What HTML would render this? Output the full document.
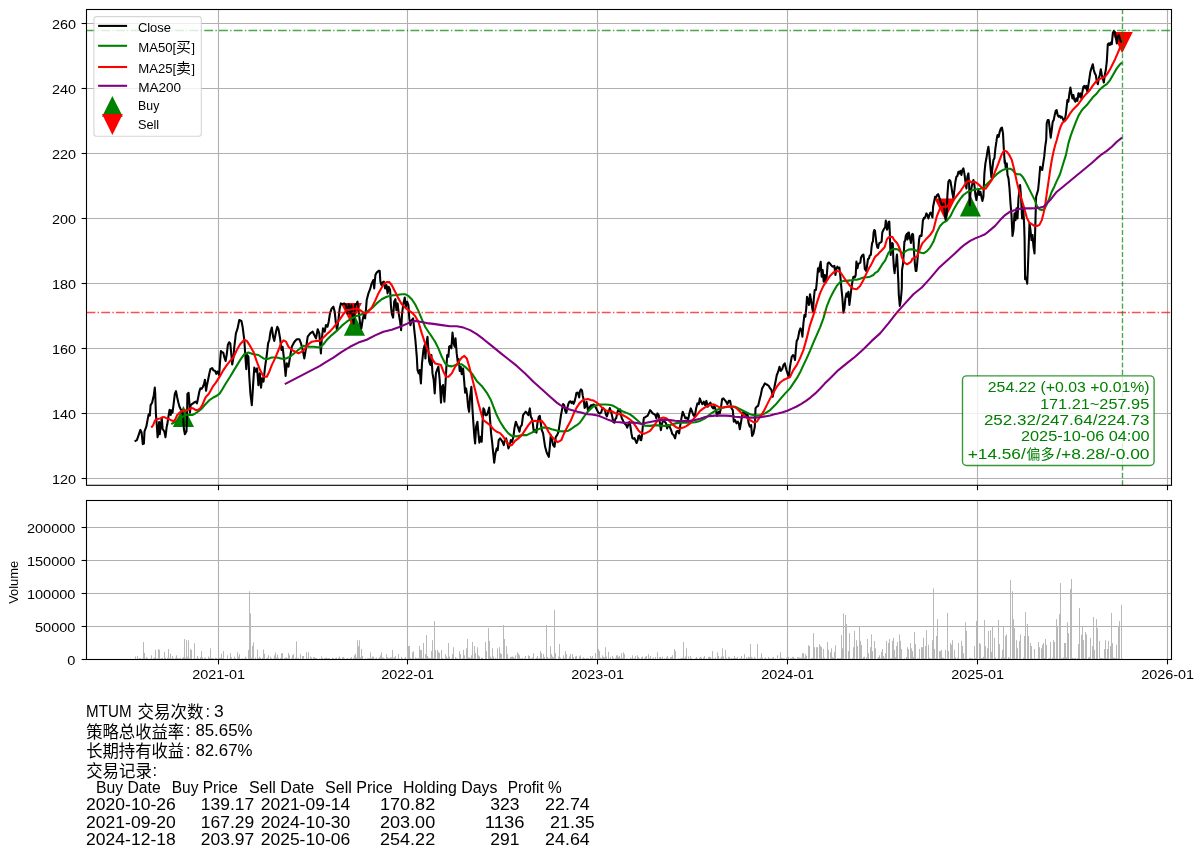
<!DOCTYPE html>
<html><head><meta charset="utf-8"><title>MTUM</title>
<style>html,body{margin:0;padding:0;background:#fff}svg{display:block}text{font-family:"Liberation Sans","Noto Sans CJK SC",sans-serif;fill:#000}</style></head><body>
<svg width="1203" height="857" viewBox="0 0 1203 857">
<rect width="1203" height="857" fill="#fff"/>
<g stroke="#b0b0b0" stroke-width="1.1" fill="none">
<path d="M86.5 478.5H1171.5"/>
<path d="M86.5 413.5H1171.5"/>
<path d="M86.5 348.5H1171.5"/>
<path d="M86.5 283.5H1171.5"/>
<path d="M86.5 218.5H1171.5"/>
<path d="M86.5 153.5H1171.5"/>
<path d="M86.5 88.5H1171.5"/>
<path d="M86.5 23.5H1171.5"/>
<path d="M218.5 9.5V485.3"/>
<path d="M407.5 9.5V485.3"/>
<path d="M597.5 9.5V485.3"/>
<path d="M787.5 9.5V485.3"/>
<path d="M977.5 9.5V485.3"/>
<path d="M1167.5 9.5V485.3"/>
<path d="M86.5 626.5H1171.5"/>
<path d="M86.5 593.5H1171.5"/>
<path d="M86.5 560.5H1171.5"/>
<path d="M86.5 527.5H1171.5"/>
<path d="M218.5 500.5V659.5"/>
<path d="M407.5 500.5V659.5"/>
<path d="M597.5 500.5V659.5"/>
<path d="M787.5 500.5V659.5"/>
<path d="M977.5 500.5V659.5"/>
<path d="M1167.5 500.5V659.5"/>
</g>
<g fill="#b9b9b9">
<rect x="135" y="658.5" width="1" height="0.5"/>
<rect x="137" y="658.2" width="1" height="0.8"/>
<rect x="139" y="658.0" width="1" height="1.0"/>
<rect x="139" y="658.6" width="1" height="0.4"/>
<rect x="140" y="658.1" width="1" height="0.9"/>
<rect x="142" y="658.6" width="1" height="0.4"/>
<rect x="143" y="657.5" width="1" height="1.5"/>
<rect x="143" y="658.2" width="1" height="0.8"/>
<rect x="144" y="658.5" width="1" height="0.5"/>
<rect x="145" y="658.6" width="1" height="0.4"/>
<rect x="146" y="657.5" width="1" height="1.5"/>
<rect x="146" y="657.4" width="1" height="1.6"/>
<rect x="147" y="658.2" width="1" height="0.8"/>
<rect x="147" y="658.6" width="1" height="0.4"/>
<rect x="150" y="658.5" width="1" height="0.5"/>
<rect x="151" y="658.4" width="1" height="0.6"/>
<rect x="153" y="658.6" width="1" height="0.4"/>
<rect x="153" y="658.4" width="1" height="0.6"/>
<rect x="154" y="657.5" width="1" height="1.5"/>
<rect x="154" y="658.5" width="1" height="0.5"/>
<rect x="155" y="657.9" width="1" height="1.1"/>
<rect x="156" y="658.4" width="1" height="0.6"/>
<rect x="157" y="658.3" width="1" height="0.7"/>
<rect x="158" y="658.4" width="1" height="0.6"/>
<rect x="160" y="658.6" width="1" height="0.4"/>
<rect x="161" y="658.1" width="1" height="0.9"/>
<rect x="162" y="658.5" width="1" height="0.5"/>
<rect x="162" y="657.9" width="1" height="1.1"/>
<rect x="164" y="658.3" width="1" height="0.7"/>
<rect x="165" y="658.6" width="1" height="0.4"/>
<rect x="165" y="657.7" width="1" height="1.3"/>
<rect x="167" y="657.8" width="1" height="1.2"/>
<rect x="168" y="657.2" width="1" height="1.8"/>
<rect x="169" y="658.3" width="1" height="0.7"/>
<rect x="171" y="658.6" width="1" height="0.4"/>
<rect x="172" y="657.7" width="1" height="1.3"/>
<rect x="172" y="658.3" width="1" height="0.7"/>
<rect x="173" y="658.4" width="1" height="0.6"/>
<rect x="175" y="658.1" width="1" height="0.9"/>
<rect x="175" y="657.7" width="1" height="1.3"/>
<rect x="177" y="657.8" width="1" height="1.2"/>
<rect x="178" y="658.4" width="1" height="0.6"/>
<rect x="179" y="658.4" width="1" height="0.6"/>
<rect x="179" y="658.6" width="1" height="0.4"/>
<rect x="180" y="657.9" width="1" height="1.1"/>
<rect x="180" y="658.1" width="1" height="0.9"/>
<rect x="182" y="658.5" width="1" height="0.5"/>
<rect x="182" y="657.8" width="1" height="1.2"/>
<rect x="183" y="657.2" width="1" height="1.8"/>
<rect x="183" y="657.7" width="1" height="1.3"/>
<rect x="185" y="657.7" width="1" height="1.3"/>
<rect x="186" y="658.5" width="1" height="0.5"/>
<rect x="186" y="657.3" width="1" height="1.7"/>
<rect x="187" y="656.7" width="1" height="2.3"/>
<rect x="189" y="658.3" width="1" height="0.7"/>
<rect x="190" y="658.0" width="1" height="1.0"/>
<rect x="190" y="658.1" width="1" height="0.9"/>
<rect x="191" y="658.0" width="1" height="1.0"/>
<rect x="193" y="658.6" width="1" height="0.4"/>
<rect x="194" y="657.6" width="1" height="1.4"/>
<rect x="194" y="658.4" width="1" height="0.6"/>
<rect x="195" y="658.5" width="1" height="0.5"/>
<rect x="196" y="658.5" width="1" height="0.5"/>
<rect x="197" y="657.6" width="1" height="1.4"/>
<rect x="197" y="657.8" width="1" height="1.2"/>
<rect x="198" y="658.1" width="1" height="0.9"/>
<rect x="198" y="658.5" width="1" height="0.5"/>
<rect x="200" y="657.2" width="1" height="1.8"/>
<rect x="201" y="658.4" width="1" height="0.6"/>
<rect x="201" y="658.2" width="1" height="0.8"/>
<rect x="202" y="657.4" width="1" height="1.6"/>
<rect x="204" y="658.1" width="1" height="0.9"/>
<rect x="204" y="657.8" width="1" height="1.2"/>
<rect x="205" y="657.6" width="1" height="1.4"/>
<rect x="205" y="658.5" width="1" height="0.5"/>
<rect x="208" y="658.4" width="1" height="0.6"/>
<rect x="209" y="658.0" width="1" height="1.0"/>
<rect x="209" y="658.4" width="1" height="0.6"/>
<rect x="211" y="658.6" width="1" height="0.4"/>
<rect x="211" y="658.1" width="1" height="0.9"/>
<rect x="212" y="658.2" width="1" height="0.8"/>
<rect x="213" y="658.1" width="1" height="0.9"/>
<rect x="215" y="657.7" width="1" height="1.3"/>
<rect x="215" y="658.6" width="1" height="0.4"/>
<rect x="216" y="657.8" width="1" height="1.2"/>
<rect x="219" y="657.7" width="1" height="1.3"/>
<rect x="219" y="658.1" width="1" height="0.9"/>
<rect x="220" y="657.9" width="1" height="1.1"/>
<rect x="220" y="657.9" width="1" height="1.1"/>
<rect x="222" y="658.3" width="1" height="0.7"/>
<rect x="222" y="658.4" width="1" height="0.6"/>
<rect x="223" y="658.0" width="1" height="1.0"/>
<rect x="223" y="658.2" width="1" height="0.8"/>
<rect x="227" y="658.5" width="1" height="0.5"/>
<rect x="229" y="658.5" width="1" height="0.5"/>
<rect x="230" y="658.3" width="1" height="0.7"/>
<rect x="231" y="658.5" width="1" height="0.5"/>
<rect x="231" y="657.2" width="1" height="1.8"/>
<rect x="233" y="658.6" width="1" height="0.4"/>
<rect x="235" y="658.2" width="1" height="0.8"/>
<rect x="237" y="657.3" width="1" height="1.7"/>
<rect x="238" y="656.7" width="1" height="2.3"/>
<rect x="238" y="658.0" width="1" height="1.0"/>
<rect x="241" y="658.6" width="1" height="0.4"/>
<rect x="242" y="658.6" width="1" height="0.4"/>
<rect x="242" y="658.4" width="1" height="0.6"/>
<rect x="244" y="658.5" width="1" height="0.5"/>
<rect x="245" y="656.8" width="1" height="2.2"/>
<rect x="246" y="658.5" width="1" height="0.5"/>
<rect x="249" y="656.5" width="1" height="2.5"/>
<rect x="249" y="658.6" width="1" height="0.4"/>
<rect x="251" y="658.1" width="1" height="0.9"/>
<rect x="251" y="657.9" width="1" height="1.1"/>
<rect x="253" y="658.1" width="1" height="0.9"/>
<rect x="253" y="658.2" width="1" height="0.8"/>
<rect x="255" y="657.7" width="1" height="1.3"/>
<rect x="255" y="657.5" width="1" height="1.5"/>
<rect x="257" y="658.4" width="1" height="0.6"/>
<rect x="258" y="658.0" width="1" height="1.0"/>
<rect x="259" y="656.6" width="1" height="2.4"/>
<rect x="259" y="658.0" width="1" height="1.0"/>
<rect x="260" y="657.7" width="1" height="1.3"/>
<rect x="260" y="658.4" width="1" height="0.6"/>
<rect x="262" y="657.7" width="1" height="1.3"/>
<rect x="263" y="657.9" width="1" height="1.1"/>
<rect x="266" y="658.3" width="1" height="0.7"/>
<rect x="267" y="657.6" width="1" height="1.4"/>
<rect x="268" y="658.1" width="1" height="0.9"/>
<rect x="270" y="656.5" width="1" height="2.5"/>
<rect x="270" y="658.0" width="1" height="1.0"/>
<rect x="271" y="658.2" width="1" height="0.8"/>
<rect x="273" y="658.4" width="1" height="0.6"/>
<rect x="274" y="658.4" width="1" height="0.6"/>
<rect x="275" y="657.6" width="1" height="1.4"/>
<rect x="276" y="657.6" width="1" height="1.4"/>
<rect x="277" y="658.4" width="1" height="0.6"/>
<rect x="277" y="658.1" width="1" height="0.9"/>
<rect x="278" y="658.1" width="1" height="0.9"/>
<rect x="278" y="657.7" width="1" height="1.3"/>
<rect x="280" y="657.9" width="1" height="1.1"/>
<rect x="281" y="658.3" width="1" height="0.7"/>
<rect x="281" y="657.7" width="1" height="1.3"/>
<rect x="282" y="658.2" width="1" height="0.8"/>
<rect x="284" y="658.0" width="1" height="1.0"/>
<rect x="284" y="658.3" width="1" height="0.7"/>
<rect x="285" y="657.6" width="1" height="1.4"/>
<rect x="285" y="658.2" width="1" height="0.8"/>
<rect x="286" y="657.6" width="1" height="1.4"/>
<rect x="287" y="658.1" width="1" height="0.9"/>
<rect x="288" y="657.2" width="1" height="1.8"/>
<rect x="289" y="657.7" width="1" height="1.3"/>
<rect x="291" y="658.5" width="1" height="0.5"/>
<rect x="291" y="658.6" width="1" height="0.4"/>
<rect x="292" y="658.6" width="1" height="0.4"/>
<rect x="293" y="657.7" width="1" height="1.3"/>
<rect x="293" y="658.1" width="1" height="0.9"/>
<rect x="295" y="658.0" width="1" height="1.0"/>
<rect x="295" y="657.7" width="1" height="1.3"/>
<rect x="296" y="657.7" width="1" height="1.3"/>
<rect x="297" y="658.3" width="1" height="0.7"/>
<rect x="298" y="658.1" width="1" height="0.9"/>
<rect x="300" y="657.7" width="1" height="1.3"/>
<rect x="302" y="656.9" width="1" height="2.1"/>
<rect x="303" y="657.3" width="1" height="1.7"/>
<rect x="303" y="658.3" width="1" height="0.7"/>
<rect x="306" y="658.4" width="1" height="0.6"/>
<rect x="307" y="658.3" width="1" height="0.7"/>
<rect x="308" y="657.8" width="1" height="1.2"/>
<rect x="310" y="658.1" width="1" height="0.9"/>
<rect x="310" y="657.7" width="1" height="1.3"/>
<rect x="311" y="657.6" width="1" height="1.4"/>
<rect x="311" y="658.4" width="1" height="0.6"/>
<rect x="313" y="658.2" width="1" height="0.8"/>
<rect x="313" y="657.3" width="1" height="1.7"/>
<rect x="314" y="658.0" width="1" height="1.0"/>
<rect x="314" y="657.2" width="1" height="1.8"/>
<rect x="315" y="658.0" width="1" height="1.0"/>
<rect x="316" y="657.9" width="1" height="1.1"/>
<rect x="319" y="658.5" width="1" height="0.5"/>
<rect x="321" y="657.4" width="1" height="1.6"/>
<rect x="322" y="658.5" width="1" height="0.5"/>
<rect x="322" y="658.1" width="1" height="0.9"/>
<rect x="324" y="657.9" width="1" height="1.1"/>
<rect x="325" y="658.5" width="1" height="0.5"/>
<rect x="325" y="658.0" width="1" height="1.0"/>
<rect x="326" y="657.5" width="1" height="1.5"/>
<rect x="327" y="658.5" width="1" height="0.5"/>
<rect x="328" y="658.1" width="1" height="0.9"/>
<rect x="328" y="658.3" width="1" height="0.7"/>
<rect x="329" y="658.3" width="1" height="0.7"/>
<rect x="332" y="657.9" width="1" height="1.1"/>
<rect x="332" y="657.6" width="1" height="1.4"/>
<rect x="333" y="658.4" width="1" height="0.6"/>
<rect x="333" y="658.2" width="1" height="0.8"/>
<rect x="335" y="658.5" width="1" height="0.5"/>
<rect x="335" y="658.2" width="1" height="0.8"/>
<rect x="336" y="658.3" width="1" height="0.7"/>
<rect x="336" y="657.6" width="1" height="1.4"/>
<rect x="338" y="657.9" width="1" height="1.1"/>
<rect x="339" y="656.9" width="1" height="2.1"/>
<rect x="340" y="658.4" width="1" height="0.6"/>
<rect x="342" y="657.3" width="1" height="1.7"/>
<rect x="342" y="658.3" width="1" height="0.7"/>
<rect x="343" y="657.0" width="1" height="2.0"/>
<rect x="344" y="658.2" width="1" height="0.8"/>
<rect x="346" y="658.6" width="1" height="0.4"/>
<rect x="347" y="658.3" width="1" height="0.7"/>
<rect x="347" y="658.3" width="1" height="0.7"/>
<rect x="348" y="658.4" width="1" height="0.6"/>
<rect x="350" y="657.8" width="1" height="1.2"/>
<rect x="350" y="658.4" width="1" height="0.6"/>
<rect x="351" y="658.6" width="1" height="0.4"/>
<rect x="351" y="657.1" width="1" height="1.9"/>
<rect x="353" y="658.2" width="1" height="0.8"/>
<rect x="353" y="657.8" width="1" height="1.2"/>
<rect x="354" y="658.6" width="1" height="0.4"/>
<rect x="355" y="657.3" width="1" height="1.7"/>
<rect x="356" y="657.4" width="1" height="1.6"/>
<rect x="357" y="658.6" width="1" height="0.4"/>
<rect x="358" y="656.8" width="1" height="2.2"/>
<rect x="358" y="658.2" width="1" height="0.8"/>
<rect x="359" y="658.4" width="1" height="0.6"/>
<rect x="360" y="657.3" width="1" height="1.7"/>
<rect x="361" y="658.5" width="1" height="0.5"/>
<rect x="362" y="658.2" width="1" height="0.8"/>
<rect x="362" y="658.2" width="1" height="0.8"/>
<rect x="365" y="658.3" width="1" height="0.7"/>
<rect x="367" y="658.1" width="1" height="0.9"/>
<rect x="368" y="658.2" width="1" height="0.8"/>
<rect x="369" y="658.2" width="1" height="0.8"/>
<rect x="371" y="658.2" width="1" height="0.8"/>
<rect x="372" y="656.6" width="1" height="2.4"/>
<rect x="372" y="658.0" width="1" height="1.0"/>
<rect x="373" y="658.4" width="1" height="0.6"/>
<rect x="373" y="656.7" width="1" height="2.3"/>
<rect x="375" y="658.4" width="1" height="0.6"/>
<rect x="375" y="658.6" width="1" height="0.4"/>
<rect x="376" y="657.5" width="1" height="1.5"/>
<rect x="376" y="658.6" width="1" height="0.4"/>
<rect x="378" y="658.5" width="1" height="0.5"/>
<rect x="379" y="657.3" width="1" height="1.7"/>
<rect x="379" y="658.1" width="1" height="0.9"/>
<rect x="380" y="658.4" width="1" height="0.6"/>
<rect x="382" y="657.8" width="1" height="1.2"/>
<rect x="382" y="657.4" width="1" height="1.6"/>
<rect x="383" y="657.7" width="1" height="1.3"/>
<rect x="384" y="658.4" width="1" height="0.6"/>
<rect x="386" y="658.6" width="1" height="0.4"/>
<rect x="387" y="658.1" width="1" height="0.9"/>
<rect x="387" y="657.1" width="1" height="1.9"/>
<rect x="388" y="658.1" width="1" height="0.9"/>
<rect x="389" y="657.9" width="1" height="1.1"/>
<rect x="390" y="657.8" width="1" height="1.2"/>
<rect x="390" y="657.5" width="1" height="1.5"/>
<rect x="391" y="658.1" width="1" height="0.9"/>
<rect x="391" y="657.4" width="1" height="1.6"/>
<rect x="393" y="658.3" width="1" height="0.7"/>
<rect x="393" y="658.2" width="1" height="0.8"/>
<rect x="394" y="657.1" width="1" height="1.9"/>
<rect x="395" y="658.3" width="1" height="0.7"/>
<rect x="397" y="658.5" width="1" height="0.5"/>
<rect x="398" y="658.3" width="1" height="0.7"/>
<rect x="399" y="658.6" width="1" height="0.4"/>
<rect x="401" y="658.4" width="1" height="0.6"/>
<rect x="402" y="658.3" width="1" height="0.7"/>
<rect x="404" y="658.3" width="1" height="0.7"/>
<rect x="405" y="658.4" width="1" height="0.6"/>
<rect x="410" y="657.9" width="1" height="1.1"/>
<rect x="411" y="658.6" width="1" height="0.4"/>
<rect x="412" y="658.1" width="1" height="0.9"/>
<rect x="412" y="658.6" width="1" height="0.4"/>
<rect x="413" y="658.6" width="1" height="0.4"/>
<rect x="415" y="658.1" width="1" height="0.9"/>
<rect x="415" y="657.3" width="1" height="1.7"/>
<rect x="416" y="658.2" width="1" height="0.8"/>
<rect x="417" y="658.3" width="1" height="0.7"/>
<rect x="418" y="658.0" width="1" height="1.0"/>
<rect x="419" y="656.6" width="1" height="2.4"/>
<rect x="419" y="658.1" width="1" height="0.9"/>
<rect x="420" y="657.6" width="1" height="1.4"/>
<rect x="422" y="657.8" width="1" height="1.2"/>
<rect x="422" y="658.3" width="1" height="0.7"/>
<rect x="423" y="658.5" width="1" height="0.5"/>
<rect x="424" y="658.6" width="1" height="0.4"/>
<rect x="426" y="657.7" width="1" height="1.3"/>
<rect x="426" y="658.4" width="1" height="0.6"/>
<rect x="427" y="658.5" width="1" height="0.5"/>
<rect x="428" y="657.5" width="1" height="1.5"/>
<rect x="429" y="658.1" width="1" height="0.9"/>
<rect x="430" y="658.1" width="1" height="0.9"/>
<rect x="430" y="658.0" width="1" height="1.0"/>
<rect x="431" y="658.3" width="1" height="0.7"/>
<rect x="433" y="658.0" width="1" height="1.0"/>
<rect x="434" y="658.5" width="1" height="0.5"/>
<rect x="434" y="658.2" width="1" height="0.8"/>
<rect x="437" y="656.7" width="1" height="2.3"/>
<rect x="437" y="657.9" width="1" height="1.1"/>
<rect x="439" y="656.7" width="1" height="2.3"/>
<rect x="441" y="658.2" width="1" height="0.8"/>
<rect x="441" y="658.1" width="1" height="0.9"/>
<rect x="442" y="657.9" width="1" height="1.1"/>
<rect x="445" y="658.0" width="1" height="1.0"/>
<rect x="445" y="658.3" width="1" height="0.7"/>
<rect x="447" y="658.2" width="1" height="0.8"/>
<rect x="448" y="658.5" width="1" height="0.5"/>
<rect x="451" y="658.4" width="1" height="0.6"/>
<rect x="452" y="658.1" width="1" height="0.9"/>
<rect x="452" y="658.4" width="1" height="0.6"/>
<rect x="453" y="657.7" width="1" height="1.3"/>
<rect x="455" y="658.6" width="1" height="0.4"/>
<rect x="455" y="657.2" width="1" height="1.8"/>
<rect x="456" y="658.4" width="1" height="0.6"/>
<rect x="456" y="658.5" width="1" height="0.5"/>
<rect x="457" y="658.5" width="1" height="0.5"/>
<rect x="459" y="657.7" width="1" height="1.3"/>
<rect x="460" y="657.4" width="1" height="1.6"/>
<rect x="460" y="658.5" width="1" height="0.5"/>
<rect x="462" y="658.0" width="1" height="1.0"/>
<rect x="463" y="658.2" width="1" height="0.8"/>
<rect x="464" y="657.4" width="1" height="1.6"/>
<rect x="464" y="658.3" width="1" height="0.7"/>
<rect x="466" y="658.2" width="1" height="0.8"/>
<rect x="466" y="657.3" width="1" height="1.7"/>
<rect x="467" y="658.4" width="1" height="0.6"/>
<rect x="468" y="657.4" width="1" height="1.6"/>
<rect x="469" y="657.4" width="1" height="1.6"/>
<rect x="470" y="658.0" width="1" height="1.0"/>
<rect x="470" y="658.4" width="1" height="0.6"/>
<rect x="471" y="657.7" width="1" height="1.3"/>
<rect x="473" y="658.4" width="1" height="0.6"/>
<rect x="474" y="658.4" width="1" height="0.6"/>
<rect x="474" y="657.6" width="1" height="1.4"/>
<rect x="475" y="658.0" width="1" height="1.0"/>
<rect x="477" y="657.8" width="1" height="1.2"/>
<rect x="477" y="658.5" width="1" height="0.5"/>
<rect x="478" y="658.0" width="1" height="1.0"/>
<rect x="478" y="658.0" width="1" height="1.0"/>
<rect x="481" y="658.6" width="1" height="0.4"/>
<rect x="481" y="657.6" width="1" height="1.4"/>
<rect x="482" y="657.9" width="1" height="1.1"/>
<rect x="485" y="658.3" width="1" height="0.7"/>
<rect x="486" y="658.4" width="1" height="0.6"/>
<rect x="489" y="658.4" width="1" height="0.6"/>
<rect x="490" y="656.6" width="1" height="2.4"/>
<rect x="491" y="658.1" width="1" height="0.9"/>
<rect x="492" y="657.6" width="1" height="1.4"/>
<rect x="495" y="657.8" width="1" height="1.2"/>
<rect x="496" y="658.6" width="1" height="0.4"/>
<rect x="497" y="658.4" width="1" height="0.6"/>
<rect x="499" y="658.2" width="1" height="0.8"/>
<rect x="500" y="658.3" width="1" height="0.7"/>
<rect x="503" y="658.3" width="1" height="0.7"/>
<rect x="503" y="657.8" width="1" height="1.2"/>
<rect x="504" y="658.3" width="1" height="0.7"/>
<rect x="506" y="658.0" width="1" height="1.0"/>
<rect x="507" y="658.6" width="1" height="0.4"/>
<rect x="508" y="658.5" width="1" height="0.5"/>
<rect x="509" y="658.6" width="1" height="0.4"/>
<rect x="510" y="656.9" width="1" height="2.1"/>
<rect x="511" y="658.0" width="1" height="1.0"/>
<rect x="513" y="658.0" width="1" height="1.0"/>
<rect x="513" y="656.9" width="1" height="2.1"/>
<rect x="514" y="658.3" width="1" height="0.7"/>
<rect x="515" y="658.5" width="1" height="0.5"/>
<rect x="517" y="656.9" width="1" height="2.1"/>
<rect x="518" y="657.8" width="1" height="1.2"/>
<rect x="518" y="658.3" width="1" height="0.7"/>
<rect x="519" y="658.1" width="1" height="0.9"/>
<rect x="520" y="658.5" width="1" height="0.5"/>
<rect x="521" y="658.5" width="1" height="0.5"/>
<rect x="522" y="658.0" width="1" height="1.0"/>
<rect x="522" y="657.9" width="1" height="1.1"/>
<rect x="524" y="658.1" width="1" height="0.9"/>
<rect x="525" y="657.1" width="1" height="1.9"/>
<rect x="528" y="658.0" width="1" height="1.0"/>
<rect x="529" y="658.3" width="1" height="0.7"/>
<rect x="530" y="658.5" width="1" height="0.5"/>
<rect x="531" y="658.4" width="1" height="0.6"/>
<rect x="532" y="658.3" width="1" height="0.7"/>
<rect x="532" y="657.4" width="1" height="1.6"/>
<rect x="533" y="657.5" width="1" height="1.5"/>
<rect x="535" y="658.6" width="1" height="0.4"/>
<rect x="536" y="657.7" width="1" height="1.3"/>
<rect x="536" y="658.4" width="1" height="0.6"/>
<rect x="537" y="658.4" width="1" height="0.6"/>
<rect x="538" y="658.6" width="1" height="0.4"/>
<rect x="539" y="658.4" width="1" height="0.6"/>
<rect x="539" y="658.4" width="1" height="0.6"/>
<rect x="540" y="657.8" width="1" height="1.2"/>
<rect x="542" y="658.4" width="1" height="0.6"/>
<rect x="543" y="658.3" width="1" height="0.7"/>
<rect x="544" y="657.6" width="1" height="1.4"/>
<rect x="546" y="658.0" width="1" height="1.0"/>
<rect x="546" y="658.5" width="1" height="0.5"/>
<rect x="547" y="656.9" width="1" height="2.1"/>
<rect x="548" y="658.3" width="1" height="0.7"/>
<rect x="549" y="658.4" width="1" height="0.6"/>
<rect x="550" y="657.4" width="1" height="1.6"/>
<rect x="551" y="657.4" width="1" height="1.6"/>
<rect x="551" y="657.8" width="1" height="1.2"/>
<rect x="553" y="657.9" width="1" height="1.1"/>
<rect x="553" y="657.6" width="1" height="1.4"/>
<rect x="554" y="657.5" width="1" height="1.5"/>
<rect x="555" y="657.9" width="1" height="1.1"/>
<rect x="555" y="658.6" width="1" height="0.4"/>
<rect x="558" y="658.0" width="1" height="1.0"/>
<rect x="560" y="657.7" width="1" height="1.3"/>
<rect x="562" y="658.6" width="1" height="0.4"/>
<rect x="564" y="658.2" width="1" height="0.8"/>
<rect x="565" y="658.6" width="1" height="0.4"/>
<rect x="565" y="657.6" width="1" height="1.4"/>
<rect x="566" y="658.3" width="1" height="0.7"/>
<rect x="568" y="658.6" width="1" height="0.4"/>
<rect x="569" y="658.4" width="1" height="0.6"/>
<rect x="569" y="658.2" width="1" height="0.8"/>
<rect x="572" y="658.5" width="1" height="0.5"/>
<rect x="572" y="658.5" width="1" height="0.5"/>
<rect x="573" y="657.1" width="1" height="1.9"/>
<rect x="573" y="658.4" width="1" height="0.6"/>
<rect x="575" y="656.5" width="1" height="2.5"/>
<rect x="576" y="657.3" width="1" height="1.7"/>
<rect x="576" y="658.5" width="1" height="0.5"/>
<rect x="579" y="658.6" width="1" height="0.4"/>
<rect x="582" y="658.3" width="1" height="0.7"/>
<rect x="583" y="657.3" width="1" height="1.7"/>
<rect x="583" y="658.2" width="1" height="0.8"/>
<rect x="584" y="658.1" width="1" height="0.9"/>
<rect x="586" y="658.1" width="1" height="0.9"/>
<rect x="586" y="658.4" width="1" height="0.6"/>
<rect x="587" y="658.4" width="1" height="0.6"/>
<rect x="587" y="658.4" width="1" height="0.6"/>
<rect x="588" y="658.3" width="1" height="0.7"/>
<rect x="590" y="658.5" width="1" height="0.5"/>
<rect x="591" y="657.7" width="1" height="1.3"/>
<rect x="593" y="658.6" width="1" height="0.4"/>
<rect x="594" y="658.5" width="1" height="0.5"/>
<rect x="595" y="658.3" width="1" height="0.7"/>
<rect x="595" y="658.2" width="1" height="0.8"/>
<rect x="597" y="658.4" width="1" height="0.6"/>
<rect x="597" y="657.3" width="1" height="1.7"/>
<rect x="598" y="658.5" width="1" height="0.5"/>
<rect x="600" y="657.6" width="1" height="1.4"/>
<rect x="601" y="658.2" width="1" height="0.8"/>
<rect x="602" y="658.4" width="1" height="0.6"/>
<rect x="604" y="657.4" width="1" height="1.6"/>
<rect x="605" y="657.7" width="1" height="1.3"/>
<rect x="605" y="658.2" width="1" height="0.8"/>
<rect x="606" y="657.4" width="1" height="1.6"/>
<rect x="608" y="658.3" width="1" height="0.7"/>
<rect x="609" y="658.6" width="1" height="0.4"/>
<rect x="610" y="657.7" width="1" height="1.3"/>
<rect x="612" y="657.7" width="1" height="1.3"/>
<rect x="612" y="658.5" width="1" height="0.5"/>
<rect x="613" y="658.1" width="1" height="0.9"/>
<rect x="613" y="657.8" width="1" height="1.2"/>
<rect x="615" y="657.9" width="1" height="1.1"/>
<rect x="616" y="657.5" width="1" height="1.5"/>
<rect x="616" y="658.6" width="1" height="0.4"/>
<rect x="618" y="657.0" width="1" height="2.0"/>
<rect x="619" y="658.5" width="1" height="0.5"/>
<rect x="620" y="658.4" width="1" height="0.6"/>
<rect x="620" y="658.5" width="1" height="0.5"/>
<rect x="621" y="658.5" width="1" height="0.5"/>
<rect x="622" y="658.1" width="1" height="0.9"/>
<rect x="623" y="657.9" width="1" height="1.1"/>
<rect x="624" y="657.8" width="1" height="1.2"/>
<rect x="626" y="658.5" width="1" height="0.5"/>
<rect x="627" y="658.6" width="1" height="0.4"/>
<rect x="630" y="658.1" width="1" height="0.9"/>
<rect x="630" y="657.7" width="1" height="1.3"/>
<rect x="631" y="658.2" width="1" height="0.8"/>
<rect x="633" y="658.3" width="1" height="0.7"/>
<rect x="634" y="658.3" width="1" height="0.7"/>
<rect x="635" y="657.6" width="1" height="1.4"/>
<rect x="638" y="657.7" width="1" height="1.3"/>
<rect x="639" y="658.4" width="1" height="0.6"/>
<rect x="641" y="658.0" width="1" height="1.0"/>
<rect x="641" y="657.2" width="1" height="1.8"/>
<rect x="644" y="658.5" width="1" height="0.5"/>
<rect x="644" y="658.2" width="1" height="0.8"/>
<rect x="646" y="658.5" width="1" height="0.5"/>
<rect x="646" y="658.6" width="1" height="0.4"/>
<rect x="648" y="657.6" width="1" height="1.4"/>
<rect x="648" y="658.4" width="1" height="0.6"/>
<rect x="649" y="658.2" width="1" height="0.8"/>
<rect x="652" y="658.4" width="1" height="0.6"/>
<rect x="653" y="657.5" width="1" height="1.5"/>
<rect x="653" y="658.4" width="1" height="0.6"/>
<rect x="655" y="656.9" width="1" height="2.1"/>
<rect x="655" y="658.4" width="1" height="0.6"/>
<rect x="657" y="658.1" width="1" height="0.9"/>
<rect x="659" y="657.9" width="1" height="1.1"/>
<rect x="659" y="657.1" width="1" height="1.9"/>
<rect x="660" y="658.5" width="1" height="0.5"/>
<rect x="660" y="658.3" width="1" height="0.7"/>
<rect x="661" y="658.4" width="1" height="0.6"/>
<rect x="662" y="656.6" width="1" height="2.4"/>
<rect x="664" y="658.2" width="1" height="0.8"/>
<rect x="666" y="657.5" width="1" height="1.5"/>
<rect x="666" y="657.9" width="1" height="1.1"/>
<rect x="667" y="655.9" width="1" height="3.1"/>
<rect x="668" y="658.3" width="1" height="0.7"/>
<rect x="670" y="658.2" width="1" height="0.8"/>
<rect x="670" y="657.1" width="1" height="1.9"/>
<rect x="673" y="658.6" width="1" height="0.4"/>
<rect x="674" y="658.2" width="1" height="0.8"/>
<rect x="674" y="658.4" width="1" height="0.6"/>
<rect x="675" y="658.4" width="1" height="0.6"/>
<rect x="678" y="658.2" width="1" height="0.8"/>
<rect x="678" y="658.6" width="1" height="0.4"/>
<rect x="680" y="658.4" width="1" height="0.6"/>
<rect x="681" y="658.0" width="1" height="1.0"/>
<rect x="682" y="657.7" width="1" height="1.3"/>
<rect x="682" y="658.6" width="1" height="0.4"/>
<rect x="684" y="658.1" width="1" height="0.9"/>
<rect x="685" y="658.0" width="1" height="1.0"/>
<rect x="686" y="657.6" width="1" height="1.4"/>
<rect x="686" y="657.6" width="1" height="1.4"/>
<rect x="688" y="658.2" width="1" height="0.8"/>
<rect x="690" y="657.6" width="1" height="1.4"/>
<rect x="691" y="658.1" width="1" height="0.9"/>
<rect x="695" y="658.4" width="1" height="0.6"/>
<rect x="696" y="657.1" width="1" height="1.9"/>
<rect x="697" y="658.6" width="1" height="0.4"/>
<rect x="699" y="658.4" width="1" height="0.6"/>
<rect x="699" y="657.8" width="1" height="1.2"/>
<rect x="701" y="657.6" width="1" height="1.4"/>
<rect x="703" y="658.3" width="1" height="0.7"/>
<rect x="703" y="657.5" width="1" height="1.5"/>
<rect x="704" y="657.9" width="1" height="1.1"/>
<rect x="706" y="658.4" width="1" height="0.6"/>
<rect x="708" y="658.0" width="1" height="1.0"/>
<rect x="709" y="656.8" width="1" height="2.2"/>
<rect x="710" y="658.4" width="1" height="0.6"/>
<rect x="710" y="658.5" width="1" height="0.5"/>
<rect x="711" y="658.6" width="1" height="0.4"/>
<rect x="712" y="658.1" width="1" height="0.9"/>
<rect x="713" y="658.6" width="1" height="0.4"/>
<rect x="714" y="658.5" width="1" height="0.5"/>
<rect x="715" y="658.5" width="1" height="0.5"/>
<rect x="715" y="657.6" width="1" height="1.4"/>
<rect x="717" y="658.3" width="1" height="0.7"/>
<rect x="717" y="657.6" width="1" height="1.4"/>
<rect x="718" y="658.4" width="1" height="0.6"/>
<rect x="718" y="658.5" width="1" height="0.5"/>
<rect x="719" y="658.6" width="1" height="0.4"/>
<rect x="720" y="658.2" width="1" height="0.8"/>
<rect x="721" y="658.6" width="1" height="0.4"/>
<rect x="722" y="658.5" width="1" height="0.5"/>
<rect x="722" y="657.6" width="1" height="1.4"/>
<rect x="725" y="657.9" width="1" height="1.1"/>
<rect x="726" y="657.8" width="1" height="1.2"/>
<rect x="728" y="656.8" width="1" height="2.2"/>
<rect x="728" y="657.0" width="1" height="2.0"/>
<rect x="729" y="657.2" width="1" height="1.8"/>
<rect x="730" y="658.6" width="1" height="0.4"/>
<rect x="731" y="658.1" width="1" height="0.9"/>
<rect x="732" y="658.4" width="1" height="0.6"/>
<rect x="733" y="658.1" width="1" height="0.9"/>
<rect x="735" y="658.1" width="1" height="0.9"/>
<rect x="735" y="658.0" width="1" height="1.0"/>
<rect x="736" y="658.1" width="1" height="0.9"/>
<rect x="737" y="657.3" width="1" height="1.7"/>
<rect x="739" y="658.6" width="1" height="0.4"/>
<rect x="740" y="658.6" width="1" height="0.4"/>
<rect x="740" y="658.4" width="1" height="0.6"/>
<rect x="741" y="658.2" width="1" height="0.8"/>
<rect x="742" y="658.6" width="1" height="0.4"/>
<rect x="743" y="658.4" width="1" height="0.6"/>
<rect x="744" y="658.3" width="1" height="0.7"/>
<rect x="746" y="657.9" width="1" height="1.1"/>
<rect x="746" y="657.5" width="1" height="1.5"/>
<rect x="747" y="658.3" width="1" height="0.7"/>
<rect x="747" y="658.6" width="1" height="0.4"/>
<rect x="748" y="656.8" width="1" height="2.2"/>
<rect x="749" y="657.3" width="1" height="1.7"/>
<rect x="750" y="658.3" width="1" height="0.7"/>
<rect x="751" y="658.5" width="1" height="0.5"/>
<rect x="752" y="657.8" width="1" height="1.2"/>
<rect x="753" y="658.6" width="1" height="0.4"/>
<rect x="754" y="657.4" width="1" height="1.6"/>
<rect x="755" y="657.9" width="1" height="1.1"/>
<rect x="757" y="657.3" width="1" height="1.7"/>
<rect x="757" y="658.3" width="1" height="0.7"/>
<rect x="758" y="658.6" width="1" height="0.4"/>
<rect x="759" y="658.6" width="1" height="0.4"/>
<rect x="760" y="657.8" width="1" height="1.2"/>
<rect x="761" y="658.2" width="1" height="0.8"/>
<rect x="762" y="658.6" width="1" height="0.4"/>
<rect x="762" y="658.3" width="1" height="0.7"/>
<rect x="764" y="658.3" width="1" height="0.7"/>
<rect x="765" y="657.4" width="1" height="1.6"/>
<rect x="766" y="658.6" width="1" height="0.4"/>
<rect x="768" y="658.0" width="1" height="1.0"/>
<rect x="768" y="658.3" width="1" height="0.7"/>
<rect x="769" y="658.2" width="1" height="0.8"/>
<rect x="770" y="658.6" width="1" height="0.4"/>
<rect x="771" y="658.5" width="1" height="0.5"/>
<rect x="772" y="657.8" width="1" height="1.2"/>
<rect x="773" y="658.6" width="1" height="0.4"/>
<rect x="773" y="658.5" width="1" height="0.5"/>
<rect x="775" y="658.2" width="1" height="0.8"/>
<rect x="777" y="658.5" width="1" height="0.5"/>
<rect x="779" y="658.4" width="1" height="0.6"/>
<rect x="780" y="657.9" width="1" height="1.1"/>
<rect x="780" y="658.6" width="1" height="0.4"/>
<rect x="782" y="658.1" width="1" height="0.9"/>
<rect x="783" y="658.3" width="1" height="0.7"/>
<rect x="784" y="658.3" width="1" height="0.7"/>
<rect x="786" y="657.8" width="1" height="1.2"/>
<rect x="786" y="658.4" width="1" height="0.6"/>
<rect x="787" y="658.6" width="1" height="0.4"/>
<rect x="787" y="658.2" width="1" height="0.8"/>
<rect x="788" y="656.9" width="1" height="2.1"/>
<rect x="790" y="658.6" width="1" height="0.4"/>
<rect x="790" y="657.9" width="1" height="1.1"/>
<rect x="791" y="658.4" width="1" height="0.6"/>
<rect x="791" y="658.3" width="1" height="0.7"/>
<rect x="792" y="657.0" width="1" height="2.0"/>
<rect x="793" y="656.7" width="1" height="2.3"/>
<rect x="794" y="658.6" width="1" height="0.4"/>
<rect x="794" y="658.5" width="1" height="0.5"/>
<rect x="795" y="658.4" width="1" height="0.6"/>
<rect x="797" y="657.1" width="1" height="1.9"/>
<rect x="798" y="657.5" width="1" height="1.5"/>
<rect x="798" y="658.2" width="1" height="0.8"/>
<rect x="799" y="657.5" width="1" height="1.5"/>
<rect x="800" y="658.0" width="1" height="1.0"/>
<rect x="801" y="658.5" width="1" height="0.5"/>
<rect x="802" y="657.9" width="1" height="1.1"/>
<rect x="804" y="657.7" width="1" height="1.3"/>
<rect x="805" y="657.5" width="1" height="1.5"/>
<rect x="805" y="657.9" width="1" height="1.1"/>
<rect x="806" y="658.3" width="1" height="0.7"/>
<rect x="806" y="658.3" width="1" height="0.7"/>
<rect x="808" y="658.2" width="1" height="0.8"/>
<rect x="808" y="658.6" width="1" height="0.4"/>
<rect x="809" y="658.4" width="1" height="0.6"/>
<rect x="809" y="657.0" width="1" height="2.0"/>
<rect x="811" y="658.2" width="1" height="0.8"/>
<rect x="812" y="658.3" width="1" height="0.7"/>
<rect x="812" y="658.2" width="1" height="0.8"/>
<rect x="813" y="656.8" width="1" height="2.2"/>
<rect x="815" y="658.6" width="1" height="0.4"/>
<rect x="816" y="656.7" width="1" height="2.3"/>
<rect x="816" y="658.1" width="1" height="0.9"/>
<rect x="819" y="658.2" width="1" height="0.8"/>
<rect x="819" y="658.6" width="1" height="0.4"/>
<rect x="820" y="658.0" width="1" height="1.0"/>
<rect x="820" y="658.3" width="1" height="0.7"/>
<rect x="822" y="658.5" width="1" height="0.5"/>
<rect x="823" y="658.4" width="1" height="0.6"/>
<rect x="824" y="657.6" width="1" height="1.4"/>
<rect x="824" y="658.0" width="1" height="1.0"/>
<rect x="826" y="658.5" width="1" height="0.5"/>
<rect x="827" y="658.1" width="1" height="0.9"/>
<rect x="828" y="658.1" width="1" height="0.9"/>
<rect x="830" y="658.5" width="1" height="0.5"/>
<rect x="831" y="658.5" width="1" height="0.5"/>
<rect x="832" y="657.1" width="1" height="1.9"/>
<rect x="833" y="657.9" width="1" height="1.1"/>
<rect x="837" y="658.6" width="1" height="0.4"/>
<rect x="837" y="658.1" width="1" height="0.9"/>
<rect x="838" y="658.3" width="1" height="0.7"/>
<rect x="838" y="658.5" width="1" height="0.5"/>
<rect x="839" y="658.4" width="1" height="0.6"/>
<rect x="840" y="658.0" width="1" height="1.0"/>
<rect x="841" y="658.4" width="1" height="0.6"/>
<rect x="841" y="657.8" width="1" height="1.2"/>
<rect x="842" y="658.4" width="1" height="0.6"/>
<rect x="843" y="658.1" width="1" height="0.9"/>
<rect x="845" y="657.8" width="1" height="1.2"/>
<rect x="846" y="658.3" width="1" height="0.7"/>
<rect x="848" y="657.4" width="1" height="1.6"/>
<rect x="849" y="658.5" width="1" height="0.5"/>
<rect x="850" y="658.6" width="1" height="0.4"/>
<rect x="852" y="658.3" width="1" height="0.7"/>
<rect x="852" y="658.3" width="1" height="0.7"/>
<rect x="853" y="658.2" width="1" height="0.8"/>
<rect x="853" y="658.5" width="1" height="0.5"/>
<rect x="859" y="657.4" width="1" height="1.6"/>
<rect x="860" y="658.1" width="1" height="0.9"/>
<rect x="862" y="658.5" width="1" height="0.5"/>
<rect x="863" y="657.1" width="1" height="1.9"/>
<rect x="864" y="656.7" width="1" height="2.3"/>
<rect x="866" y="657.4" width="1" height="1.6"/>
<rect x="866" y="658.1" width="1" height="0.9"/>
<rect x="867" y="656.6" width="1" height="2.4"/>
<rect x="867" y="656.7" width="1" height="2.3"/>
<rect x="870" y="658.5" width="1" height="0.5"/>
<rect x="871" y="658.5" width="1" height="0.5"/>
<rect x="871" y="657.0" width="1" height="2.0"/>
<rect x="872" y="658.2" width="1" height="0.8"/>
<rect x="874" y="658.5" width="1" height="0.5"/>
<rect x="875" y="658.4" width="1" height="0.6"/>
<rect x="875" y="658.6" width="1" height="0.4"/>
<rect x="877" y="658.5" width="1" height="0.5"/>
<rect x="878" y="657.0" width="1" height="2.0"/>
<rect x="880" y="658.3" width="1" height="0.7"/>
<rect x="881" y="658.2" width="1" height="0.8"/>
<rect x="882" y="658.4" width="1" height="0.6"/>
<rect x="884" y="657.9" width="1" height="1.1"/>
<rect x="885" y="657.2" width="1" height="1.8"/>
<rect x="885" y="658.2" width="1" height="0.8"/>
<rect x="886" y="657.3" width="1" height="1.7"/>
<rect x="886" y="658.2" width="1" height="0.8"/>
<rect x="888" y="657.6" width="1" height="1.4"/>
<rect x="888" y="658.2" width="1" height="0.8"/>
<rect x="889" y="658.3" width="1" height="0.7"/>
<rect x="889" y="658.4" width="1" height="0.6"/>
<rect x="890" y="658.4" width="1" height="0.6"/>
<rect x="891" y="658.2" width="1" height="0.8"/>
<rect x="892" y="658.2" width="1" height="0.8"/>
<rect x="892" y="657.4" width="1" height="1.6"/>
<rect x="893" y="658.1" width="1" height="0.9"/>
<rect x="893" y="656.8" width="1" height="2.2"/>
<rect x="895" y="657.3" width="1" height="1.7"/>
<rect x="896" y="658.4" width="1" height="0.6"/>
<rect x="896" y="658.3" width="1" height="0.7"/>
<rect x="897" y="658.3" width="1" height="0.7"/>
<rect x="899" y="657.8" width="1" height="1.2"/>
<rect x="900" y="658.0" width="1" height="1.0"/>
<rect x="900" y="657.8" width="1" height="1.2"/>
<rect x="901" y="658.5" width="1" height="0.5"/>
<rect x="904" y="658.4" width="1" height="0.6"/>
<rect x="906" y="657.3" width="1" height="1.7"/>
<rect x="906" y="657.0" width="1" height="2.0"/>
<rect x="907" y="657.9" width="1" height="1.1"/>
<rect x="908" y="658.3" width="1" height="0.7"/>
<rect x="910" y="658.5" width="1" height="0.5"/>
<rect x="911" y="658.3" width="1" height="0.7"/>
<rect x="912" y="658.4" width="1" height="0.6"/>
<rect x="913" y="657.1" width="1" height="1.9"/>
<rect x="914" y="658.6" width="1" height="0.4"/>
<rect x="915" y="658.5" width="1" height="0.5"/>
<rect x="917" y="658.2" width="1" height="0.8"/>
<rect x="918" y="658.3" width="1" height="0.7"/>
<rect x="919" y="658.5" width="1" height="0.5"/>
<rect x="921" y="657.8" width="1" height="1.2"/>
<rect x="922" y="658.5" width="1" height="0.5"/>
<rect x="923" y="658.3" width="1" height="0.7"/>
<rect x="924" y="658.3" width="1" height="0.7"/>
<rect x="925" y="657.6" width="1" height="1.4"/>
<rect x="925" y="657.4" width="1" height="1.6"/>
<rect x="926" y="658.5" width="1" height="0.5"/>
<rect x="928" y="657.9" width="1" height="1.1"/>
<rect x="928" y="658.3" width="1" height="0.7"/>
<rect x="929" y="657.9" width="1" height="1.1"/>
<rect x="929" y="657.9" width="1" height="1.1"/>
<rect x="930" y="658.4" width="1" height="0.6"/>
<rect x="931" y="658.6" width="1" height="0.4"/>
<rect x="932" y="657.7" width="1" height="1.3"/>
<rect x="933" y="658.2" width="1" height="0.8"/>
<rect x="935" y="658.4" width="1" height="0.6"/>
<rect x="936" y="658.2" width="1" height="0.8"/>
<rect x="936" y="657.6" width="1" height="1.4"/>
<rect x="937" y="658.4" width="1" height="0.6"/>
<rect x="939" y="657.1" width="1" height="1.9"/>
<rect x="939" y="657.9" width="1" height="1.1"/>
<rect x="940" y="658.4" width="1" height="0.6"/>
<rect x="941" y="658.6" width="1" height="0.4"/>
<rect x="942" y="657.5" width="1" height="1.5"/>
<rect x="943" y="658.4" width="1" height="0.6"/>
<rect x="943" y="657.9" width="1" height="1.1"/>
<rect x="944" y="658.5" width="1" height="0.5"/>
<rect x="947" y="658.6" width="1" height="0.4"/>
<rect x="947" y="657.8" width="1" height="1.2"/>
<rect x="948" y="657.7" width="1" height="1.3"/>
<rect x="950" y="658.5" width="1" height="0.5"/>
<rect x="951" y="658.3" width="1" height="0.7"/>
<rect x="952" y="657.2" width="1" height="1.8"/>
<rect x="953" y="658.4" width="1" height="0.6"/>
<rect x="954" y="657.6" width="1" height="1.4"/>
<rect x="955" y="657.3" width="1" height="1.7"/>
<rect x="957" y="658.0" width="1" height="1.0"/>
<rect x="958" y="658.0" width="1" height="1.0"/>
<rect x="961" y="658.6" width="1" height="0.4"/>
<rect x="962" y="658.2" width="1" height="0.8"/>
<rect x="963" y="657.7" width="1" height="1.3"/>
<rect x="964" y="658.4" width="1" height="0.6"/>
<rect x="965" y="657.4" width="1" height="1.6"/>
<rect x="966" y="658.3" width="1" height="0.7"/>
<rect x="966" y="658.1" width="1" height="0.9"/>
<rect x="969" y="657.9" width="1" height="1.1"/>
<rect x="970" y="657.7" width="1" height="1.3"/>
<rect x="971" y="658.4" width="1" height="0.6"/>
<rect x="975" y="658.3" width="1" height="0.7"/>
<rect x="976" y="656.8" width="1" height="2.2"/>
<rect x="977" y="658.2" width="1" height="0.8"/>
<rect x="979" y="658.4" width="1" height="0.6"/>
<rect x="979" y="658.5" width="1" height="0.5"/>
<rect x="980" y="657.0" width="1" height="2.0"/>
<rect x="981" y="658.1" width="1" height="0.9"/>
<rect x="982" y="658.0" width="1" height="1.0"/>
<rect x="983" y="657.7" width="1" height="1.3"/>
<rect x="983" y="656.8" width="1" height="2.2"/>
<rect x="984" y="657.3" width="1" height="1.7"/>
<rect x="986" y="658.4" width="1" height="0.6"/>
<rect x="987" y="657.3" width="1" height="1.7"/>
<rect x="987" y="657.7" width="1" height="1.3"/>
<rect x="988" y="658.4" width="1" height="0.6"/>
<rect x="988" y="658.3" width="1" height="0.7"/>
<rect x="991" y="657.8" width="1" height="1.2"/>
<rect x="991" y="657.3" width="1" height="1.7"/>
<rect x="992" y="658.1" width="1" height="0.9"/>
<rect x="994" y="657.4" width="1" height="1.6"/>
<rect x="995" y="657.7" width="1" height="1.3"/>
<rect x="997" y="658.6" width="1" height="0.4"/>
<rect x="998" y="658.5" width="1" height="0.5"/>
<rect x="999" y="657.8" width="1" height="1.2"/>
<rect x="1001" y="658.5" width="1" height="0.5"/>
<rect x="1001" y="657.6" width="1" height="1.4"/>
<rect x="1002" y="657.9" width="1" height="1.1"/>
<rect x="1002" y="658.5" width="1" height="0.5"/>
<rect x="1003" y="657.9" width="1" height="1.1"/>
<rect x="1004" y="657.7" width="1" height="1.3"/>
<rect x="1005" y="658.2" width="1" height="0.8"/>
<rect x="1005" y="657.3" width="1" height="1.7"/>
<rect x="1006" y="657.3" width="1" height="1.7"/>
<rect x="1006" y="658.3" width="1" height="0.7"/>
<rect x="1008" y="657.1" width="1" height="1.9"/>
<rect x="1008" y="657.9" width="1" height="1.1"/>
<rect x="1009" y="658.5" width="1" height="0.5"/>
<rect x="1009" y="658.6" width="1" height="0.4"/>
<rect x="1012" y="658.1" width="1" height="0.9"/>
<rect x="1013" y="657.7" width="1" height="1.3"/>
<rect x="1013" y="657.9" width="1" height="1.1"/>
<rect x="1014" y="657.7" width="1" height="1.3"/>
<rect x="1015" y="658.5" width="1" height="0.5"/>
<rect x="1016" y="658.5" width="1" height="0.5"/>
<rect x="1019" y="658.4" width="1" height="0.6"/>
<rect x="1019" y="658.6" width="1" height="0.4"/>
<rect x="1020" y="658.1" width="1" height="0.9"/>
<rect x="1020" y="658.3" width="1" height="0.7"/>
<rect x="1023" y="657.6" width="1" height="1.4"/>
<rect x="1023" y="658.5" width="1" height="0.5"/>
<rect x="1024" y="658.4" width="1" height="0.6"/>
<rect x="1024" y="658.0" width="1" height="1.0"/>
<rect x="1027" y="658.3" width="1" height="0.7"/>
<rect x="1027" y="658.0" width="1" height="1.0"/>
<rect x="1028" y="658.1" width="1" height="0.9"/>
<rect x="1030" y="657.6" width="1" height="1.4"/>
<rect x="1030" y="658.4" width="1" height="0.6"/>
<rect x="1031" y="658.2" width="1" height="0.8"/>
<rect x="1031" y="657.8" width="1" height="1.2"/>
<rect x="1032" y="658.4" width="1" height="0.6"/>
<rect x="1035" y="658.5" width="1" height="0.5"/>
<rect x="1037" y="658.4" width="1" height="0.6"/>
<rect x="1039" y="656.5" width="1" height="2.5"/>
<rect x="1039" y="658.0" width="1" height="1.0"/>
<rect x="1041" y="657.4" width="1" height="1.6"/>
<rect x="1042" y="658.6" width="1" height="0.4"/>
<rect x="1043" y="658.0" width="1" height="1.0"/>
<rect x="1044" y="658.0" width="1" height="1.0"/>
<rect x="1045" y="657.6" width="1" height="1.4"/>
<rect x="1046" y="656.8" width="1" height="2.2"/>
<rect x="1048" y="658.4" width="1" height="0.6"/>
<rect x="1049" y="658.0" width="1" height="1.0"/>
<rect x="1049" y="658.0" width="1" height="1.0"/>
<rect x="1050" y="658.2" width="1" height="0.8"/>
<rect x="1052" y="657.6" width="1" height="1.4"/>
<rect x="1052" y="658.2" width="1" height="0.8"/>
<rect x="1053" y="658.5" width="1" height="0.5"/>
<rect x="1053" y="657.5" width="1" height="1.5"/>
<rect x="1054" y="658.4" width="1" height="0.6"/>
<rect x="1055" y="658.4" width="1" height="0.6"/>
<rect x="1056" y="658.3" width="1" height="0.7"/>
<rect x="1056" y="658.5" width="1" height="0.5"/>
<rect x="1060" y="658.3" width="1" height="0.7"/>
<rect x="1061" y="658.1" width="1" height="0.9"/>
<rect x="1062" y="658.4" width="1" height="0.6"/>
<rect x="1063" y="657.6" width="1" height="1.4"/>
<rect x="1063" y="657.7" width="1" height="1.3"/>
<rect x="1065" y="658.0" width="1" height="1.0"/>
<rect x="1066" y="657.5" width="1" height="1.5"/>
<rect x="1068" y="657.7" width="1" height="1.3"/>
<rect x="1068" y="658.5" width="1" height="0.5"/>
<rect x="1070" y="658.3" width="1" height="0.7"/>
<rect x="1070" y="658.0" width="1" height="1.0"/>
<rect x="1071" y="657.6" width="1" height="1.4"/>
<rect x="1071" y="658.2" width="1" height="0.8"/>
<rect x="1072" y="657.7" width="1" height="1.3"/>
<rect x="1073" y="658.5" width="1" height="0.5"/>
<rect x="1074" y="658.2" width="1" height="0.8"/>
<rect x="1075" y="657.8" width="1" height="1.2"/>
<rect x="1075" y="658.3" width="1" height="0.7"/>
<rect x="1077" y="658.3" width="1" height="0.7"/>
<rect x="1078" y="658.5" width="1" height="0.5"/>
<rect x="1078" y="658.6" width="1" height="0.4"/>
<rect x="1079" y="658.3" width="1" height="0.7"/>
<rect x="1081" y="658.5" width="1" height="0.5"/>
<rect x="1081" y="657.3" width="1" height="1.7"/>
<rect x="1082" y="658.6" width="1" height="0.4"/>
<rect x="1084" y="658.2" width="1" height="0.8"/>
<rect x="1085" y="658.5" width="1" height="0.5"/>
<rect x="1086" y="658.5" width="1" height="0.5"/>
<rect x="1088" y="657.6" width="1" height="1.4"/>
<rect x="1089" y="657.2" width="1" height="1.8"/>
<rect x="1089" y="657.6" width="1" height="1.4"/>
<rect x="1090" y="658.3" width="1" height="0.7"/>
<rect x="1092" y="658.5" width="1" height="0.5"/>
<rect x="1092" y="657.4" width="1" height="1.6"/>
<rect x="1094" y="658.0" width="1" height="1.0"/>
<rect x="1095" y="658.6" width="1" height="0.4"/>
<rect x="1096" y="657.8" width="1" height="1.2"/>
<rect x="1096" y="658.5" width="1" height="0.5"/>
<rect x="1097" y="658.6" width="1" height="0.4"/>
<rect x="1099" y="657.7" width="1" height="1.3"/>
<rect x="1100" y="658.1" width="1" height="0.9"/>
<rect x="1100" y="658.6" width="1" height="0.4"/>
<rect x="1101" y="658.0" width="1" height="1.0"/>
<rect x="1102" y="658.3" width="1" height="0.7"/>
<rect x="1103" y="658.3" width="1" height="0.7"/>
<rect x="1104" y="658.2" width="1" height="0.8"/>
<rect x="1104" y="658.0" width="1" height="1.0"/>
<rect x="1105" y="657.8" width="1" height="1.2"/>
<rect x="1106" y="658.2" width="1" height="0.8"/>
<rect x="1107" y="658.2" width="1" height="0.8"/>
<rect x="1107" y="658.5" width="1" height="0.5"/>
<rect x="1108" y="657.7" width="1" height="1.3"/>
<rect x="1108" y="658.3" width="1" height="0.7"/>
<rect x="1110" y="658.4" width="1" height="0.6"/>
<rect x="1111" y="657.2" width="1" height="1.8"/>
<rect x="1113" y="657.6" width="1" height="1.4"/>
<rect x="1114" y="658.2" width="1" height="0.8"/>
<rect x="1114" y="657.9" width="1" height="1.1"/>
<rect x="1115" y="658.4" width="1" height="0.6"/>
<rect x="1115" y="658.2" width="1" height="0.8"/>
<rect x="1117" y="658.5" width="1" height="0.5"/>
<rect x="1118" y="657.8" width="1" height="1.2"/>
<rect x="1118" y="658.2" width="1" height="0.8"/>
<rect x="1119" y="658.5" width="1" height="0.5"/>
<rect x="1121" y="657.6" width="1" height="1.4"/>
<rect x="1121" y="658.5" width="1" height="0.5"/>
<rect x="1122" y="658.5" width="1" height="0.5"/>
<rect x="135" y="656.5" width="1" height="2.5"/>
<rect x="137" y="656.0" width="1" height="3.0"/>
<rect x="143" y="642.0" width="1" height="17.0"/>
<rect x="144" y="653.0" width="1" height="6.0"/>
<rect x="151" y="655.3" width="1" height="3.7"/>
<rect x="155" y="649.9" width="1" height="9.1"/>
<rect x="158" y="649.0" width="1" height="10.0"/>
<rect x="159" y="649.9" width="1" height="9.1"/>
<rect x="164" y="651.8" width="1" height="7.2"/>
<rect x="168" y="649.0" width="1" height="10.0"/>
<rect x="170" y="653.7" width="1" height="5.3"/>
<rect x="172" y="656.0" width="1" height="3.0"/>
<rect x="176" y="655.3" width="1" height="3.7"/>
<rect x="184" y="639.0" width="1" height="20.0"/>
<rect x="186" y="640.2" width="1" height="18.8"/>
<rect x="188" y="640.2" width="1" height="18.8"/>
<rect x="190" y="649.0" width="1" height="10.0"/>
<rect x="191" y="649.9" width="1" height="9.1"/>
<rect x="194" y="643.2" width="1" height="15.8"/>
<rect x="197" y="656.0" width="1" height="3.0"/>
<rect x="201" y="651.1" width="1" height="7.9"/>
<rect x="208" y="656.5" width="1" height="2.5"/>
<rect x="210" y="648.3" width="1" height="10.7"/>
<rect x="221" y="653.7" width="1" height="5.3"/>
<rect x="223" y="651.1" width="1" height="7.9"/>
<rect x="227" y="655.3" width="1" height="3.7"/>
<rect x="230" y="653.2" width="1" height="5.8"/>
<rect x="234" y="656.5" width="1" height="2.5"/>
<rect x="237" y="652.3" width="1" height="6.7"/>
<rect x="239" y="654.1" width="1" height="4.9"/>
<rect x="248" y="649.9" width="1" height="9.1"/>
<rect x="249" y="591.3" width="1" height="67.7"/>
<rect x="250" y="613.4" width="1" height="45.6"/>
<rect x="252" y="646.0" width="1" height="13.0"/>
<rect x="253" y="642.5" width="1" height="16.5"/>
<rect x="257" y="649.5" width="1" height="9.5"/>
<rect x="263" y="649.5" width="1" height="9.5"/>
<rect x="264" y="653.7" width="1" height="5.3"/>
<rect x="268" y="655.3" width="1" height="3.7"/>
<rect x="274" y="655.3" width="1" height="3.7"/>
<rect x="275" y="652.3" width="1" height="6.7"/>
<rect x="277" y="654.6" width="1" height="4.4"/>
<rect x="281" y="653.2" width="1" height="5.8"/>
<rect x="282" y="653.2" width="1" height="5.8"/>
<rect x="288" y="653.2" width="1" height="5.8"/>
<rect x="289" y="655.3" width="1" height="3.7"/>
<rect x="292" y="655.3" width="1" height="3.7"/>
<rect x="293" y="654.1" width="1" height="4.9"/>
<rect x="296" y="641.3" width="1" height="17.7"/>
<rect x="300" y="654.1" width="1" height="4.9"/>
<rect x="302" y="656.0" width="1" height="3.0"/>
<rect x="303" y="656.0" width="1" height="3.0"/>
<rect x="306" y="652.3" width="1" height="6.7"/>
<rect x="308" y="652.3" width="1" height="6.7"/>
<rect x="310" y="656.5" width="1" height="2.5"/>
<rect x="321" y="656.5" width="1" height="2.5"/>
<rect x="339" y="656.5" width="1" height="2.5"/>
<rect x="354" y="655.3" width="1" height="3.7"/>
<rect x="355" y="653.7" width="1" height="5.3"/>
<rect x="357" y="640.2" width="1" height="18.8"/>
<rect x="358" y="646.0" width="1" height="13.0"/>
<rect x="359" y="640.2" width="1" height="18.8"/>
<rect x="361" y="649.0" width="1" height="10.0"/>
<rect x="362" y="656.0" width="1" height="3.0"/>
<rect x="370" y="652.3" width="1" height="6.7"/>
<rect x="380" y="655.3" width="1" height="3.7"/>
<rect x="381" y="652.3" width="1" height="6.7"/>
<rect x="386" y="654.1" width="1" height="4.9"/>
<rect x="392" y="649.9" width="1" height="9.1"/>
<rect x="395" y="656.0" width="1" height="3.0"/>
<rect x="398" y="654.1" width="1" height="4.9"/>
<rect x="401" y="656.9" width="1" height="2.1"/>
<rect x="405" y="656.9" width="1" height="2.1"/>
<rect x="407" y="649.9" width="1" height="9.1"/>
<rect x="408" y="646.0" width="1" height="13.0"/>
<rect x="409" y="646.0" width="1" height="13.0"/>
<rect x="412" y="652.3" width="1" height="6.7"/>
<rect x="413" y="651.3" width="1" height="7.7"/>
<rect x="419" y="646.0" width="1" height="13.0"/>
<rect x="420" y="649.9" width="1" height="9.1"/>
<rect x="421" y="649.9" width="1" height="9.1"/>
<rect x="423" y="643.0" width="1" height="16.0"/>
<rect x="425" y="654.1" width="1" height="4.9"/>
<rect x="426" y="635.0" width="1" height="24.0"/>
<rect x="427" y="656.0" width="1" height="3.0"/>
<rect x="431" y="651.1" width="1" height="7.9"/>
<rect x="432" y="640.2" width="1" height="18.8"/>
<rect x="434" y="621.1" width="1" height="37.9"/>
<rect x="435" y="649.9" width="1" height="9.1"/>
<rect x="437" y="649.9" width="1" height="9.1"/>
<rect x="438" y="651.8" width="1" height="7.2"/>
<rect x="439" y="653.0" width="1" height="6.0"/>
<rect x="441" y="649.9" width="1" height="9.1"/>
<rect x="445" y="654.1" width="1" height="4.9"/>
<rect x="446" y="656.5" width="1" height="2.5"/>
<rect x="448" y="643.0" width="1" height="16.0"/>
<rect x="449" y="656.5" width="1" height="2.5"/>
<rect x="452" y="654.1" width="1" height="4.9"/>
<rect x="453" y="647.2" width="1" height="11.8"/>
<rect x="459" y="651.1" width="1" height="7.9"/>
<rect x="460" y="654.1" width="1" height="4.9"/>
<rect x="463" y="649.9" width="1" height="9.1"/>
<rect x="464" y="655.3" width="1" height="3.7"/>
<rect x="466" y="648.3" width="1" height="10.7"/>
<rect x="467" y="639.0" width="1" height="20.0"/>
<rect x="471" y="655.3" width="1" height="3.7"/>
<rect x="472" y="642.0" width="1" height="17.0"/>
<rect x="474" y="646.0" width="1" height="13.0"/>
<rect x="475" y="653.0" width="1" height="6.0"/>
<rect x="477" y="647.2" width="1" height="11.8"/>
<rect x="478" y="655.3" width="1" height="3.7"/>
<rect x="479" y="656.5" width="1" height="2.5"/>
<rect x="485" y="642.0" width="1" height="17.0"/>
<rect x="486" y="651.1" width="1" height="7.9"/>
<rect x="488" y="628.1" width="1" height="30.9"/>
<rect x="489" y="640.9" width="1" height="18.1"/>
<rect x="492" y="648.3" width="1" height="10.7"/>
<rect x="493" y="656.5" width="1" height="2.5"/>
<rect x="497" y="648.3" width="1" height="10.7"/>
<rect x="499" y="647.2" width="1" height="11.8"/>
<rect x="500" y="653.2" width="1" height="5.8"/>
<rect x="501" y="654.1" width="1" height="4.9"/>
<rect x="503" y="625.0" width="1" height="34.0"/>
<rect x="504" y="639.0" width="1" height="20.0"/>
<rect x="506" y="646.0" width="1" height="13.0"/>
<rect x="507" y="654.1" width="1" height="4.9"/>
<rect x="511" y="656.9" width="1" height="2.1"/>
<rect x="512" y="656.5" width="1" height="2.5"/>
<rect x="515" y="655.3" width="1" height="3.7"/>
<rect x="517" y="652.3" width="1" height="6.7"/>
<rect x="518" y="653.7" width="1" height="5.3"/>
<rect x="519" y="655.3" width="1" height="3.7"/>
<rect x="525" y="656.0" width="1" height="3.0"/>
<rect x="528" y="655.3" width="1" height="3.7"/>
<rect x="529" y="656.0" width="1" height="3.0"/>
<rect x="533" y="653.2" width="1" height="5.8"/>
<rect x="537" y="656.0" width="1" height="3.0"/>
<rect x="540" y="651.1" width="1" height="7.9"/>
<rect x="541" y="653.2" width="1" height="5.8"/>
<rect x="543" y="654.1" width="1" height="4.9"/>
<rect x="544" y="656.9" width="1" height="2.1"/>
<rect x="546" y="625.0" width="1" height="34.0"/>
<rect x="550" y="646.0" width="1" height="13.0"/>
<rect x="551" y="654.1" width="1" height="4.9"/>
<rect x="552" y="656.5" width="1" height="2.5"/>
<rect x="554" y="609.9" width="1" height="49.1"/>
<rect x="555" y="653.2" width="1" height="5.8"/>
<rect x="558" y="656.5" width="1" height="2.5"/>
<rect x="559" y="644.1" width="1" height="14.9"/>
<rect x="563" y="655.3" width="1" height="3.7"/>
<rect x="565" y="651.1" width="1" height="7.9"/>
<rect x="566" y="654.1" width="1" height="4.9"/>
<rect x="569" y="656.5" width="1" height="2.5"/>
<rect x="570" y="654.1" width="1" height="4.9"/>
<rect x="572" y="654.1" width="1" height="4.9"/>
<rect x="576" y="656.0" width="1" height="3.0"/>
<rect x="579" y="656.5" width="1" height="2.5"/>
<rect x="580" y="655.3" width="1" height="3.7"/>
<rect x="590" y="656.0" width="1" height="3.0"/>
<rect x="592" y="656.0" width="1" height="3.0"/>
<rect x="595" y="653.2" width="1" height="5.8"/>
<rect x="598" y="649.0" width="1" height="10.0"/>
<rect x="599" y="651.1" width="1" height="7.9"/>
<rect x="602" y="655.3" width="1" height="3.7"/>
<rect x="603" y="656.9" width="1" height="2.1"/>
<rect x="605" y="647.2" width="1" height="11.8"/>
<rect x="606" y="656.5" width="1" height="2.5"/>
<rect x="608" y="651.8" width="1" height="7.2"/>
<rect x="610" y="656.9" width="1" height="2.1"/>
<rect x="612" y="656.0" width="1" height="3.0"/>
<rect x="616" y="655.3" width="1" height="3.7"/>
<rect x="617" y="655.3" width="1" height="3.7"/>
<rect x="619" y="656.0" width="1" height="3.0"/>
<rect x="621" y="653.2" width="1" height="5.8"/>
<rect x="623" y="652.3" width="1" height="6.7"/>
<rect x="624" y="654.1" width="1" height="4.9"/>
<rect x="632" y="655.3" width="1" height="3.7"/>
<rect x="635" y="656.0" width="1" height="3.0"/>
<rect x="637" y="655.3" width="1" height="3.7"/>
<rect x="638" y="656.9" width="1" height="2.1"/>
<rect x="642" y="656.5" width="1" height="2.5"/>
<rect x="645" y="656.5" width="1" height="2.5"/>
<rect x="646" y="656.0" width="1" height="3.0"/>
<rect x="648" y="654.1" width="1" height="4.9"/>
<rect x="650" y="656.0" width="1" height="3.0"/>
<rect x="657" y="652.3" width="1" height="6.7"/>
<rect x="660" y="656.9" width="1" height="2.1"/>
<rect x="671" y="656.9" width="1" height="2.1"/>
<rect x="672" y="655.3" width="1" height="3.7"/>
<rect x="674" y="649.0" width="1" height="10.0"/>
<rect x="675" y="651.1" width="1" height="7.9"/>
<rect x="683" y="642.0" width="1" height="17.0"/>
<rect x="685" y="656.5" width="1" height="2.5"/>
<rect x="686" y="648.3" width="1" height="10.7"/>
<rect x="688" y="656.5" width="1" height="2.5"/>
<rect x="690" y="656.0" width="1" height="3.0"/>
<rect x="696" y="656.9" width="1" height="2.1"/>
<rect x="700" y="656.9" width="1" height="2.1"/>
<rect x="704" y="656.0" width="1" height="3.0"/>
<rect x="708" y="656.9" width="1" height="2.1"/>
<rect x="710" y="656.9" width="1" height="2.1"/>
<rect x="712" y="651.1" width="1" height="7.9"/>
<rect x="715" y="657.6" width="1" height="1.4"/>
<rect x="717" y="652.3" width="1" height="6.7"/>
<rect x="718" y="656.0" width="1" height="3.0"/>
<rect x="721" y="656.5" width="1" height="2.5"/>
<rect x="722" y="648.3" width="1" height="10.7"/>
<rect x="723" y="656.5" width="1" height="2.5"/>
<rect x="725" y="649.9" width="1" height="9.1"/>
<rect x="734" y="656.0" width="1" height="3.0"/>
<rect x="737" y="656.9" width="1" height="2.1"/>
<rect x="741" y="656.0" width="1" height="3.0"/>
<rect x="744" y="654.1" width="1" height="4.9"/>
<rect x="750" y="644.1" width="1" height="14.9"/>
<rect x="751" y="656.9" width="1" height="2.1"/>
<rect x="754" y="656.9" width="1" height="2.1"/>
<rect x="757" y="644.1" width="1" height="14.9"/>
<rect x="761" y="653.2" width="1" height="5.8"/>
<rect x="762" y="657.6" width="1" height="1.4"/>
<rect x="768" y="656.9" width="1" height="2.1"/>
<rect x="773" y="656.9" width="1" height="2.1"/>
<rect x="777" y="655.3" width="1" height="3.7"/>
<rect x="780" y="652.3" width="1" height="6.7"/>
<rect x="781" y="657.6" width="1" height="1.4"/>
<rect x="790" y="658.1" width="1" height="0.9"/>
<rect x="794" y="658.1" width="1" height="0.9"/>
<rect x="801" y="657.6" width="1" height="1.4"/>
<rect x="802" y="653.2" width="1" height="5.8"/>
<rect x="803" y="653.2" width="1" height="5.8"/>
<rect x="805" y="654.1" width="1" height="4.9"/>
<rect x="806" y="656.0" width="1" height="3.0"/>
<rect x="808" y="645.3" width="1" height="13.7"/>
<rect x="809" y="646.0" width="1" height="13.0"/>
<rect x="813" y="633.2" width="1" height="25.8"/>
<rect x="814" y="647.2" width="1" height="11.8"/>
<rect x="816" y="647.2" width="1" height="11.8"/>
<rect x="817" y="647.2" width="1" height="11.8"/>
<rect x="819" y="644.1" width="1" height="14.9"/>
<rect x="820" y="646.0" width="1" height="13.0"/>
<rect x="821" y="647.2" width="1" height="11.8"/>
<rect x="823" y="649.0" width="1" height="10.0"/>
<rect x="827" y="642.0" width="1" height="17.0"/>
<rect x="828" y="649.9" width="1" height="9.1"/>
<rect x="830" y="652.3" width="1" height="6.7"/>
<rect x="831" y="648.3" width="1" height="10.7"/>
<rect x="834" y="651.8" width="1" height="7.2"/>
<rect x="835" y="645.3" width="1" height="13.7"/>
<rect x="841" y="635.0" width="1" height="24.0"/>
<rect x="842" y="648.3" width="1" height="10.7"/>
<rect x="843" y="613.4" width="1" height="45.6"/>
<rect x="845" y="615.0" width="1" height="44.0"/>
<rect x="846" y="623.9" width="1" height="35.1"/>
<rect x="848" y="651.1" width="1" height="7.9"/>
<rect x="849" y="633.2" width="1" height="25.8"/>
<rect x="853" y="647.2" width="1" height="11.8"/>
<rect x="854" y="630.9" width="1" height="28.1"/>
<rect x="856" y="640.2" width="1" height="18.8"/>
<rect x="857" y="646.0" width="1" height="13.0"/>
<rect x="859" y="626.7" width="1" height="32.3"/>
<rect x="860" y="640.9" width="1" height="18.1"/>
<rect x="861" y="644.8" width="1" height="14.2"/>
<rect x="867" y="639.0" width="1" height="20.0"/>
<rect x="868" y="653.2" width="1" height="5.8"/>
<rect x="870" y="647.2" width="1" height="11.8"/>
<rect x="871" y="634.4" width="1" height="24.6"/>
<rect x="872" y="651.1" width="1" height="7.9"/>
<rect x="874" y="640.9" width="1" height="18.1"/>
<rect x="875" y="648.3" width="1" height="10.7"/>
<rect x="879" y="655.3" width="1" height="3.7"/>
<rect x="881" y="651.8" width="1" height="7.2"/>
<rect x="882" y="649.0" width="1" height="10.0"/>
<rect x="883" y="656.0" width="1" height="3.0"/>
<rect x="885" y="653.2" width="1" height="5.8"/>
<rect x="886" y="640.9" width="1" height="18.1"/>
<rect x="888" y="643.0" width="1" height="16.0"/>
<rect x="889" y="639.0" width="1" height="20.0"/>
<rect x="892" y="640.9" width="1" height="18.1"/>
<rect x="893" y="637.8" width="1" height="21.2"/>
<rect x="894" y="649.9" width="1" height="9.1"/>
<rect x="896" y="646.0" width="1" height="13.0"/>
<rect x="897" y="642.0" width="1" height="17.0"/>
<rect x="899" y="634.4" width="1" height="24.6"/>
<rect x="900" y="640.9" width="1" height="18.1"/>
<rect x="901" y="649.0" width="1" height="10.0"/>
<rect x="907" y="647.2" width="1" height="11.8"/>
<rect x="908" y="649.0" width="1" height="10.0"/>
<rect x="910" y="643.0" width="1" height="16.0"/>
<rect x="911" y="648.3" width="1" height="10.7"/>
<rect x="912" y="651.1" width="1" height="7.9"/>
<rect x="914" y="632.0" width="1" height="27.0"/>
<rect x="915" y="644.1" width="1" height="14.9"/>
<rect x="919" y="649.0" width="1" height="10.0"/>
<rect x="921" y="647.2" width="1" height="11.8"/>
<rect x="922" y="647.2" width="1" height="11.8"/>
<rect x="923" y="637.8" width="1" height="21.2"/>
<rect x="925" y="646.0" width="1" height="13.0"/>
<rect x="926" y="630.2" width="1" height="28.8"/>
<rect x="928" y="644.8" width="1" height="14.2"/>
<rect x="932" y="640.2" width="1" height="18.8"/>
<rect x="933" y="588.3" width="1" height="70.7"/>
<rect x="934" y="649.0" width="1" height="10.0"/>
<rect x="936" y="636.0" width="1" height="23.0"/>
<rect x="937" y="619.2" width="1" height="39.8"/>
<rect x="939" y="651.1" width="1" height="7.9"/>
<rect x="940" y="651.1" width="1" height="7.9"/>
<rect x="941" y="649.9" width="1" height="9.1"/>
<rect x="945" y="649.9" width="1" height="9.1"/>
<rect x="947" y="612.9" width="1" height="46.1"/>
<rect x="948" y="651.1" width="1" height="7.9"/>
<rect x="950" y="643.0" width="1" height="16.0"/>
<rect x="951" y="644.8" width="1" height="14.2"/>
<rect x="952" y="640.2" width="1" height="18.8"/>
<rect x="954" y="649.9" width="1" height="9.1"/>
<rect x="958" y="643.0" width="1" height="16.0"/>
<rect x="961" y="640.9" width="1" height="18.1"/>
<rect x="962" y="646.0" width="1" height="13.0"/>
<rect x="963" y="653.2" width="1" height="5.8"/>
<rect x="965" y="622.2" width="1" height="36.8"/>
<rect x="966" y="630.9" width="1" height="28.1"/>
<rect x="972" y="658.1" width="1" height="0.9"/>
<rect x="974" y="646.0" width="1" height="13.0"/>
<rect x="976" y="621.1" width="1" height="37.9"/>
<rect x="979" y="643.0" width="1" height="16.0"/>
<rect x="980" y="644.1" width="1" height="14.9"/>
<rect x="984" y="619.9" width="1" height="39.1"/>
<rect x="985" y="646.0" width="1" height="13.0"/>
<rect x="987" y="648.3" width="1" height="10.7"/>
<rect x="988" y="630.9" width="1" height="28.1"/>
<rect x="990" y="630.2" width="1" height="28.8"/>
<rect x="991" y="651.8" width="1" height="7.2"/>
<rect x="992" y="626.7" width="1" height="32.3"/>
<rect x="994" y="637.8" width="1" height="21.2"/>
<rect x="998" y="619.9" width="1" height="39.1"/>
<rect x="999" y="644.1" width="1" height="14.9"/>
<rect x="1002" y="649.9" width="1" height="9.1"/>
<rect x="1003" y="626.7" width="1" height="32.3"/>
<rect x="1005" y="636.0" width="1" height="23.0"/>
<rect x="1006" y="634.4" width="1" height="24.6"/>
<rect x="1010" y="580.1" width="1" height="78.9"/>
<rect x="1012" y="591.3" width="1" height="67.7"/>
<rect x="1013" y="619.2" width="1" height="39.8"/>
<rect x="1014" y="628.1" width="1" height="30.9"/>
<rect x="1016" y="640.2" width="1" height="18.8"/>
<rect x="1017" y="648.3" width="1" height="10.7"/>
<rect x="1019" y="640.9" width="1" height="18.1"/>
<rect x="1020" y="634.4" width="1" height="24.6"/>
<rect x="1024" y="636.0" width="1" height="23.0"/>
<rect x="1025" y="612.2" width="1" height="46.8"/>
<rect x="1027" y="623.9" width="1" height="35.1"/>
<rect x="1028" y="636.0" width="1" height="23.0"/>
<rect x="1030" y="643.0" width="1" height="16.0"/>
<rect x="1031" y="646.0" width="1" height="13.0"/>
<rect x="1034" y="649.0" width="1" height="10.0"/>
<rect x="1038" y="642.0" width="1" height="17.0"/>
<rect x="1039" y="647.2" width="1" height="11.8"/>
<rect x="1041" y="648.3" width="1" height="10.7"/>
<rect x="1042" y="644.8" width="1" height="14.2"/>
<rect x="1043" y="643.0" width="1" height="16.0"/>
<rect x="1045" y="639.0" width="1" height="20.0"/>
<rect x="1046" y="644.8" width="1" height="14.2"/>
<rect x="1050" y="642.0" width="1" height="17.0"/>
<rect x="1053" y="640.2" width="1" height="18.8"/>
<rect x="1054" y="642.0" width="1" height="17.0"/>
<rect x="1056" y="619.2" width="1" height="39.8"/>
<rect x="1057" y="626.7" width="1" height="32.3"/>
<rect x="1059" y="614.1" width="1" height="44.9"/>
<rect x="1060" y="583.1" width="1" height="75.9"/>
<rect x="1064" y="643.0" width="1" height="16.0"/>
<rect x="1065" y="643.0" width="1" height="16.0"/>
<rect x="1067" y="622.2" width="1" height="36.8"/>
<rect x="1068" y="633.2" width="1" height="25.8"/>
<rect x="1070" y="589.0" width="1" height="70.0"/>
<rect x="1071" y="579.0" width="1" height="80.0"/>
<rect x="1078" y="644.1" width="1" height="14.9"/>
<rect x="1079" y="608.1" width="1" height="50.9"/>
<rect x="1081" y="635.0" width="1" height="24.0"/>
<rect x="1082" y="626.7" width="1" height="32.3"/>
<rect x="1083" y="640.2" width="1" height="18.8"/>
<rect x="1085" y="632.0" width="1" height="27.0"/>
<rect x="1086" y="634.4" width="1" height="24.6"/>
<rect x="1090" y="637.8" width="1" height="21.2"/>
<rect x="1092" y="646.0" width="1" height="13.0"/>
<rect x="1093" y="616.9" width="1" height="42.1"/>
<rect x="1094" y="649.9" width="1" height="9.1"/>
<rect x="1096" y="619.2" width="1" height="39.8"/>
<rect x="1097" y="628.1" width="1" height="30.9"/>
<rect x="1099" y="640.9" width="1" height="18.1"/>
<rect x="1104" y="649.0" width="1" height="10.0"/>
<rect x="1105" y="640.2" width="1" height="18.8"/>
<rect x="1107" y="649.0" width="1" height="10.0"/>
<rect x="1108" y="640.9" width="1" height="18.1"/>
<rect x="1110" y="646.0" width="1" height="13.0"/>
<rect x="1111" y="612.9" width="1" height="46.1"/>
<rect x="1112" y="643.0" width="1" height="16.0"/>
<rect x="1116" y="644.8" width="1" height="14.2"/>
<rect x="1118" y="626.7" width="1" height="32.3"/>
<rect x="1119" y="621.1" width="1" height="37.9"/>
<rect x="1121" y="604.8" width="1" height="54.2"/>
</g>
<defs><clipPath id="c1"><rect x="86.5" y="9.5" width="1085.0" height="475.8"/></clipPath></defs>
<path d="M183.4 405.9L194.0 427.1L172.8 427.1Z" fill="#008000"/>
<path d="M354.4 314.5L365.0 335.7L343.8 335.7Z" fill="#008000"/>
<path d="M970.4 195.3L981.0 216.5L959.8 216.5Z" fill="#008000"/>
<path d="M351.3 324.2L361.9 303.0L340.7 303.0Z" fill="#ff0000"/>
<path d="M945.0 219.7L955.6 198.5L934.4 198.5Z" fill="#ff0000"/>
<path d="M1122.2 53.2L1132.8 32.0L1111.6 32.0Z" fill="#ff0000"/>
<g clip-path="url(#c1)" fill="none" stroke-linejoin="round" stroke-linecap="butt">
<path d="M134.6 441.3 L136.9 440.1 L138.7 434.8 L140.4 429.9 L141.6 432.5 L142.8 444.2 L143.9 443.6 L144.5 431.3 L146.3 426.7 L148.6 414.4 L149.8 415.6 L150.6 405.1 L152.1 402.8 L153.8 395.2 L154.8 387.6 L155.2 392.8 L155.9 413.8 L156.9 426.7 L157.6 437.2 L158.5 431.3 L159.1 422.0 L159.7 434.3 L161.1 423.2 L161.8 418.5 L162.6 429.0 L164.3 431.3 L165.5 437.2 L166.7 426.7 L167.3 424.3 L168.1 418.5 L169.6 409.8 L170.8 415.0 L171.3 410.3 L172.5 412.7 L173.7 403.3 L174.8 394.0 L176.0 391.1 L177.2 397.5 L178.3 402.2 L179.5 406.8 L180.7 409.2 L181.8 410.9 L183.0 415.0 L183.9 429.0 L184.9 434.3 L186.5 431.3 L187.1 415.0 L187.4 394.0 L188.6 392.8 L189.4 403.3 L190.0 412.7 L190.6 405.1 L192.3 403.9 L194.7 402.2 L195.8 401.6 L197.0 403.3 L198.2 397.5 L199.3 391.7 L200.5 388.2 L201.7 388.8 L202.8 387.0 L204.0 384.1 L204.9 379.7 L206.1 390.8 L206.9 385.5 L208.1 379.7 L209.3 373.8 L210.4 369.2 L212.2 368.0 L213.3 370.3 L215.1 370.9 L216.3 373.8 L217.4 371.5 L219.2 375.0 L220.1 361.0 L220.9 351.1 L222.1 352.3 L223.3 352.8 L224.4 357.5 L225.6 361.0 L226.8 354.0 L227.9 344.7 L229.1 342.3 L230.3 343.5 L231.4 355.2 L232.2 364.5 L233.4 357.5 L234.3 347.0 L235.9 333.4 L237.6 328.4 L239.3 320.0 L241.4 320.9 L242.6 326.7 L244.3 340.0 L245.4 356.7 L246.3 369.2 L247.1 355.0 L248.4 356.7 L249.3 376.7 L250.4 393.4 L251.8 405.1 L252.6 393.4 L253.4 380.1 L254.3 367.6 L255.9 371.7 L257.1 368.4 L258.4 385.1 L259.8 373.4 L261.0 387.6 L262.1 378.4 L263.5 381.7 L265.1 366.7 L266.8 355.0 L268.1 343.4 L269.3 340.0 L270.5 331.7 L271.8 327.5 L273.1 336.7 L274.3 340.9 L276.0 331.7 L277.3 326.7 L278.5 329.2 L280.1 338.4 L281.5 350.0 L282.6 346.7 L284.3 361.7 L285.6 375.9 L286.8 363.4 L288.5 366.7 L290.1 356.7 L291.8 346.7 L293.5 343.4 L295.1 340.9 L296.8 339.2 L299.3 339.2 L301.0 343.4 L302.7 350.0 L304.3 358.4 L306.0 348.4 L307.7 336.7 L310.2 333.4 L312.7 331.7 L314.3 335.0 L316.0 338.4 L317.7 329.2 L319.3 333.4 L320.9 353.4 L321.7 340.1 L323.0 328.4 L324.7 331.7 L325.9 325.1 L327.5 326.7 L328.7 321.7 L330.0 313.4 L331.7 308.4 L333.4 306.7 L334.7 311.7 L335.9 323.4 L337.0 330.1 L338.4 320.1 L339.7 308.4 L340.9 303.4 L342.5 304.2 L344.2 303.4 L345.9 305.1 L347.5 313.4 L348.7 304.2 L350.0 313.4 L351.4 305.1 L352.5 315.1 L353.7 323.4 L355.0 305.1 L356.7 303.4 L357.5 301.7 L358.7 311.7 L360.1 323.4 L361.4 328.4 L362.6 320.1 L363.7 315.1 L365.1 318.4 L365.9 310.1 L366.7 300.1 L368.4 293.4 L370.1 289.2 L371.7 283.4 L373.4 280.0 L374.2 288.4 L375.4 275.0 L376.7 272.5 L378.4 270.9 L379.7 270.9 L380.4 281.7 L381.4 285.0 L382.6 282.5 L383.9 281.7 L385.1 288.4 L386.4 285.0 L387.6 293.4 L388.7 286.7 L390.1 290.0 L390.9 305.1 L391.7 313.4 L393.1 317.6 L394.2 301.7 L395.4 299.2 L396.4 310.1 L397.6 303.4 L398.7 313.4 L400.1 321.7 L401.1 330.1 L402.1 313.4 L403.4 303.4 L404.8 297.5 L405.9 306.7 L407.1 301.7 L408.4 305.1 L409.3 318.4 L410.4 325.1 L411.8 320.1 L413.1 318.4 L414.3 330.1 L415.4 340.1 L416.8 356.8 L417.5 370.0 L418.7 373.4 L419.7 370.0 L420.9 383.4 L422.0 363.4 L423.4 350.0 L424.7 345.0 L425.4 358.4 L426.4 343.3 L427.5 336.7 L428.4 350.0 L429.2 361.7 L430.4 365.0 L431.4 355.0 L432.5 373.4 L433.7 380.0 L434.7 393.4 L435.9 373.4 L437.0 370.0 L438.4 366.7 L439.7 380.0 L441.0 402.6 L442.0 386.7 L443.0 385.0 L444.4 401.7 L445.4 385.0 L446.4 366.7 L447.2 355.0 L448.4 356.7 L449.2 346.7 L450.4 345.8 L451.4 348.3 L452.5 332.5 L453.7 343.3 L454.7 346.7 L455.5 338.3 L456.7 353.4 L457.7 361.7 L458.7 359.2 L459.7 370.9 L460.7 366.7 L461.7 374.2 L463.1 368.4 L464.1 380.0 L465.1 392.6 L466.1 388.4 L467.1 395.1 L468.1 406.7 L469.1 411.7 L470.1 396.7 L471.4 386.7 L472.4 408.4 L473.4 423.4 L474.4 436.8 L475.1 443.4 L476.1 426.7 L477.4 421.7 L478.4 433.4 L479.4 442.6 L480.7 436.8 L481.7 441.8 L482.7 420.1 L483.4 408.4 L484.4 410.1 L485.4 415.1 L486.7 415.1 L488.1 411.7 L489.2 407.6 L490.1 420.1 L491.1 433.4 L492.1 441.8 L493.1 451.8 L494.2 462.6 L495.4 453.4 L496.7 448.4 L497.7 450.1 L498.7 440.1 L500.1 438.4 L501.4 440.1 L502.8 442.6 L503.8 445.1 L504.8 440.1 L506.1 438.4 L507.4 443.4 L508.4 448.4 L509.8 445.1 L510.8 440.1 L512.1 441.8 L513.4 436.8 L514.4 428.4 L515.8 421.7 L517.1 425.1 L518.4 428.4 L519.4 431.8 L520.4 426.7 L521.8 425.1 L523.1 415.1 L524.4 413.4 L525.8 411.7 L527.1 413.4 L528.4 415.1 L529.8 408.4 L530.8 416.7 L531.8 418.4 L532.8 423.4 L533.8 431.8 L535.1 430.1 L536.4 432.6 L537.4 423.4 L538.8 416.7 L539.8 415.9 L540.8 423.4 L541.8 430.1 L543.1 433.4 L544.1 440.1 L545.1 446.8 L546.5 451.8 L547.5 454.3 L548.8 456.8 L549.8 446.8 L550.8 435.1 L551.8 438.4 L553.1 445.1 L554.5 446.8 L555.8 436.8 L557.1 435.1 L558.5 431.8 L559.5 425.1 L560.0 422.0 L561.0 415.0 L562.1 409.4 L563.1 404.1 L564.2 405.2 L565.2 410.8 L566.3 412.9 L567.3 408.0 L568.4 403.8 L569.4 401.7 L570.5 401.3 L571.5 403.1 L572.6 401.7 L573.6 403.8 L574.7 401.0 L575.7 396.8 L576.4 392.9 L577.5 392.6 L578.3 394.0 L579.2 397.5 L579.9 391.2 L581.0 389.4 L582.0 390.5 L582.7 395.4 L583.8 400.3 L584.6 408.0 L585.5 406.6 L586.5 401.7 L587.3 405.2 L588.0 410.8 L589.0 408.7 L590.1 406.6 L591.1 405.2 L592.2 405.9 L593.2 404.5 L594.3 404.8 L595.3 406.6 L596.4 408.7 L597.4 410.8 L598.5 412.9 L599.9 413.6 L601.3 412.2 L602.0 409.4 L603.0 408.0 L604.1 409.0 L605.1 410.8 L605.8 414.3 L606.9 416.4 L607.9 412.9 L609.0 410.8 L609.8 408.0 L610.7 410.8 L611.7 414.3 L612.5 417.8 L613.3 422.0 L614.5 422.7 L615.3 419.2 L616.3 417.8 L617.3 412.9 L618.1 410.1 L619.1 410.8 L620.1 409.4 L620.9 415.0 L621.9 418.5 L623.0 420.6 L624.0 422.7 L625.1 424.1 L626.1 424.8 L627.2 427.6 L628.2 424.8 L629.3 422.0 L630.3 425.5 L631.4 433.2 L632.4 438.1 L633.5 438.8 L634.5 438.1 L635.6 440.9 L636.6 443.0 L637.7 440.2 L638.4 436.0 L639.4 435.3 L640.5 440.0 L641.2 440.2 L641.9 436.0 L642.9 425.5 L643.9 417.8 L644.7 417.6 L646.0 416.7 L647.4 415.9 L648.7 413.4 L650.1 410.1 L651.4 411.7 L652.7 413.4 L654.1 414.2 L655.4 415.1 L656.4 418.4 L657.4 413.4 L658.7 415.1 L659.7 421.7 L660.9 430.1 L662.1 423.4 L663.4 420.1 L664.7 421.7 L666.1 423.4 L667.1 428.4 L668.4 425.1 L669.7 426.7 L671.1 430.1 L672.4 434.2 L673.7 435.1 L675.1 438.4 L676.4 431.7 L677.7 430.9 L679.1 433.4 L680.1 426.7 L681.4 418.4 L682.7 411.7 L684.1 415.1 L685.4 418.4 L686.7 417.6 L688.1 420.1 L689.4 413.4 L690.8 408.4 L692.1 411.7 L693.4 415.1 L694.8 416.7 L696.1 408.4 L697.4 403.4 L698.8 404.2 L699.8 398.4 L701.1 401.7 L702.4 404.2 L703.8 401.7 L705.1 405.1 L706.4 400.9 L707.8 406.7 L709.1 404.2 L710.4 402.6 L711.8 406.7 L713.1 408.4 L714.4 405.9 L715.8 410.1 L717.1 415.9 L718.4 411.7 L719.8 413.4 L721.1 406.7 L722.1 399.2 L723.4 398.4 L724.8 400.1 L726.1 401.7 L727.4 404.2 L728.8 400.9 L730.1 400.9 L731.5 408.4 L732.8 410.1 L733.8 421.7 L735.1 420.1 L736.5 423.4 L737.8 421.7 L738.8 423.4 L739.8 429.2 L741.1 421.7 L742.1 415.1 L743.5 411.7 L744.8 413.4 L746.1 415.1 L747.5 413.4 L748.5 422.6 L749.8 426.7 L751.1 425.1 L752.1 435.9 L753.5 433.4 L754.8 426.7 L755.5 408.4 L756.8 406.7 L758.1 405.9 L759.5 400.1 L760.8 395.0 L762.1 388.4 L763.5 385.9 L764.8 383.4 L766.1 384.2 L767.5 385.0 L768.8 385.9 L770.2 388.4 L771.5 390.0 L772.8 396.7 L774.2 388.4 L775.5 381.7 L776.8 375.0 L778.2 371.7 L779.5 366.7 L780.8 370.9 L782.2 369.2 L783.5 365.0 L784.8 363.4 L786.2 369.2 L787.5 373.4 L788.8 377.5 L790.0 366.7 L790.3 365.1 L791.7 356.8 L793.0 355.1 L794.2 356.8 L795.0 360.1 L795.8 350.1 L796.7 340.9 L798.0 338.4 L799.2 331.7 L800.4 328.4 L801.4 330.1 L802.4 336.7 L803.4 323.4 L804.4 315.1 L805.4 316.7 L806.4 306.7 L807.0 296.7 L808.0 300.0 L809.0 305.0 L810.0 294.2 L811.0 300.0 L812.0 306.7 L813.0 311.7 L813.7 300.0 L814.7 290.0 L816.0 290.0 L817.0 280.0 L818.0 268.3 L819.0 271.7 L819.7 266.7 L820.7 261.7 L821.7 276.7 L822.7 270.0 L823.7 281.7 L824.7 275.0 L825.7 282.5 L826.7 276.7 L827.7 263.3 L829.0 262.5 L830.4 264.2 L831.7 265.8 L833.0 266.7 L834.4 265.8 L835.4 275.0 L836.4 268.3 L837.4 266.7 L838.4 268.3 L839.4 267.5 L840.4 276.7 L841.4 288.4 L842.4 298.4 L843.4 312.6 L844.4 308.4 L845.4 298.4 L846.4 293.4 L847.4 296.7 L848.4 291.7 L849.4 305.0 L850.4 296.7 L851.4 288.4 L852.4 281.7 L853.4 276.7 L854.7 277.5 L855.7 275.0 L856.4 261.5 L857.5 268.2 L858.3 264.0 L859.2 263.3 L860.3 262.6 L861.0 257.7 L862.0 255.6 L863.4 254.5 L864.1 259.8 L864.8 268.9 L866.2 271.0 L867.3 264.0 L868.0 259.1 L869.0 258.4 L869.7 255.6 L870.8 254.9 L871.5 247.9 L872.1 243.0 L872.9 241.6 L873.6 232.5 L874.3 230.0 L875.0 230.7 L875.6 236.0 L876.4 243.0 L877.4 247.5 L878.1 247.9 L878.8 244.4 L879.5 243.0 L880.6 242.6 L881.6 241.6 L882.3 232.5 L883.4 230.0 L884.4 228.3 L885.1 227.6 L885.8 220.6 L886.5 225.5 L887.0 229.7 L887.9 227.6 L888.6 222.0 L889.3 221.6 L889.8 232.5 L890.3 248.6 L890.7 254.9 L891.4 245.1 L892.1 243.0 L892.8 243.7 L893.3 258.4 L893.9 267.5 L894.6 273.1 L895.3 265.4 L896.0 266.1 L896.6 257.0 L897.0 254.5 L897.5 264.0 L898.4 283.0 L898.8 295.0 L899.8 305.9 L900.8 300.0 L901.8 288.4 L902.0 270.1 L903.0 264.0 L903.7 254.2 L904.4 241.6 L905.1 240.9 L905.8 236.0 L906.8 233.9 L907.5 239.5 L908.2 232.8 L908.9 232.5 L909.6 238.1 L910.3 239.5 L911.0 243.0 L911.7 235.3 L912.4 233.9 L913.1 234.6 L913.6 243.0 L914.2 254.2 L914.9 264.0 L915.7 271.0 L916.4 271.0 L917.0 265.4 L917.7 257.0 L918.4 248.6 L919.1 239.5 L919.8 236.0 L920.8 235.3 L921.5 236.0 L922.2 229.0 L922.9 220.6 L923.9 217.8 L924.4 218.4 L925.4 216.7 L926.4 213.4 L927.4 215.1 L928.4 218.4 L929.4 215.1 L930.4 212.6 L931.4 213.4 L932.4 217.6 L933.1 206.7 L934.1 201.7 L935.1 196.7 L936.1 197.5 L937.1 195.0 L938.1 194.2 L939.1 196.7 L940.1 200.1 L941.1 203.4 L942.1 205.1 L943.1 206.7 L943.7 203.4 L944.7 213.4 L945.7 220.1 L946.7 215.1 L947.4 195.0 L948.4 181.7 L949.4 180.0 L950.4 180.9 L951.4 186.7 L952.4 193.4 L953.4 198.4 L954.4 190.0 L955.4 181.7 L956.4 176.7 L957.4 175.9 L958.4 171.7 L959.4 173.4 L960.4 170.9 L961.4 175.0 L962.4 170.0 L963.4 168.4 L964.4 173.4 L965.4 181.7 L966.4 188.4 L967.4 176.7 L968.4 173.4 L969.1 183.4 L969.8 205.1 L970.4 193.4 L971.4 188.4 L972.4 183.4 L973.4 180.0 L974.4 185.0 L975.4 195.0 L976.4 200.1 L977.4 193.4 L978.4 190.0 L979.4 195.0 L980.4 191.7 L981.4 196.7 L982.4 200.9 L983.4 196.7 L984.4 173.4 L985.4 163.4 L986.4 158.3 L987.4 151.7 L988.4 146.7 L989.4 155.0 L990.4 166.7 L991.4 177.5 L992.4 168.4 L993.4 160.0 L994.4 158.3 L995.4 148.3 L996.4 141.7 L996.7 139.3 L997.5 135.1 L998.7 136.8 L999.7 131.8 L1000.9 128.4 L1002.0 127.6 L1003.0 133.4 L1003.7 146.8 L1004.7 163.0 L1004.8 160.0 L1005.8 168.4 L1006.8 163.4 L1007.5 175.0 L1008.5 178.4 L1009.5 188.4 L1010.5 203.4 L1011.5 215.1 L1012.5 235.9 L1013.5 230.1 L1014.5 213.4 L1015.5 220.1 L1016.5 208.4 L1017.5 218.4 L1018.5 198.4 L1019.5 190.0 L1020.1 185.0 L1021.1 198.4 L1022.1 218.4 L1023.1 206.7 L1024.1 223.4 L1024.6 240.0 L1025.1 279.2 L1026.0 277.5 L1026.7 280.6 L1027.2 283.7 L1027.9 268.0 L1028.8 242.8 L1029.5 223.4 L1030.5 230.1 L1031.5 240.1 L1032.5 235.1 L1033.5 246.8 L1034.5 253.4 L1035.1 233.4 L1036.1 196.7 L1037.1 193.4 L1038.1 190.0 L1039.1 180.0 L1040.2 166.7 L1041.2 169.2 L1042.2 170.0 L1043.2 163.4 L1044.2 156.7 L1045.2 146.7 L1046.2 140.0 L1046.7 123.4 L1047.7 120.1 L1048.7 120.1 L1049.7 128.4 L1050.7 137.6 L1051.7 130.1 L1052.7 121.8 L1053.7 120.1 L1054.7 115.1 L1055.7 110.9 L1056.7 110.1 L1057.7 115.1 L1058.7 116.7 L1059.7 115.9 L1060.7 117.6 L1061.7 116.7 L1062.7 118.4 L1063.7 120.9 L1064.7 120.1 L1065.7 115.1 L1066.7 106.7 L1067.4 100.1 L1068.4 101.7 L1069.4 93.4 L1070.4 87.6 L1071.4 93.4 L1072.4 98.4 L1073.4 95.1 L1074.4 100.1 L1075.4 101.7 L1076.4 98.4 L1077.4 100.9 L1078.4 93.4 L1079.4 96.7 L1080.4 93.4 L1081.4 98.4 L1082.4 91.7 L1083.4 86.7 L1084.4 85.9 L1085.4 88.4 L1086.4 85.9 L1087.4 91.7 L1088.4 85.1 L1089.4 78.4 L1090.4 71.7 L1091.4 68.4 L1092.8 64.2 L1093.8 70.0 L1094.8 73.4 L1095.8 75.0 L1096.8 81.7 L1097.8 84.2 L1098.8 78.4 L1099.8 75.0 L1100.8 69.2 L1101.8 75.0 L1102.8 78.4 L1103.8 82.6 L1104.8 75.0 L1105.8 70.0 L1106.8 61.7 L1107.8 44.2 L1108.8 43.4 L1109.8 45.0 L1110.8 42.5 L1111.8 44.2 L1112.8 33.3 L1113.8 30.8 L1114.8 31.7 L1115.8 36.7 L1116.8 43.4 L1117.8 36.7 L1118.8 35.0 L1119.8 38.3 L1120.8 41.7 L1121.8 40.9" stroke="#000" stroke-width="2.08"/>
<path d="M171.3 424.1 L174.8 422.0 L178.3 419.7 L181.8 417.3 L185.3 415.0 L190.0 414.8 L192.3 415.0 L194.7 413.8 L198.2 411.5 L201.7 408.6 L205.2 404.5 L209.8 399.8 L213.3 397.5 L216.8 395.8 L219.8 393.4 L222.7 388.8 L225.0 384.7 L230.1 376.7 L235.1 368.4 L240.1 360.1 L244.3 354.2 L248.4 352.5 L253.4 354.2 L258.4 355.0 L263.5 358.4 L266.8 359.2 L271.8 357.5 L276.8 357.5 L281.8 358.7 L285.1 358.7 L290.1 356.7 L295.1 352.5 L300.2 348.4 L303.5 345.9 L308.5 346.7 L313.5 346.7 L320.0 347.5 L323.4 344.3 L326.7 340.1 L331.7 335.1 L336.7 330.9 L341.7 325.9 L346.7 321.7 L351.7 318.4 L356.7 315.9 L361.7 314.2 L366.7 311.7 L371.7 308.4 L376.7 303.4 L381.7 299.2 L386.7 296.7 L391.7 295.4 L396.7 295.0 L401.8 294.2 L405.1 294.2 L408.4 295.9 L411.8 299.2 L415.1 304.2 L418.4 310.9 L421.8 319.2 L425.1 326.7 L428.4 331.7 L431.8 336.7 L435.1 341.8 L438.4 348.4 L441.8 356.8 L445.1 363.4 L448.5 365.9 L451.8 366.4 L455.1 365.1 L458.5 364.3 L461.8 364.3 L465.1 366.8 L468.5 370.1 L471.8 373.4 L475.1 378.4 L476.7 380.9 L481.7 385.9 L486.7 392.6 L490.9 400.1 L493.4 406.7 L496.7 415.1 L500.1 421.7 L504.3 428.4 L508.4 433.4 L511.8 435.9 L516.8 436.4 L521.8 435.1 L526.8 435.1 L531.8 432.6 L536.8 430.1 L541.8 427.6 L546.8 427.6 L551.8 429.2 L556.8 430.6 L560.0 431.1 L564.2 431.4 L568.4 430.7 L571.2 429.0 L574.0 426.9 L576.8 425.1 L579.6 423.0 L582.4 419.2 L585.2 415.0 L588.0 411.5 L590.8 408.7 L593.6 406.2 L596.4 405.2 L599.2 404.6 L602.0 404.5 L605.5 404.5 L609.0 404.8 L612.5 405.5 L616.0 407.3 L619.5 409.7 L623.0 411.5 L626.5 412.9 L630.0 414.3 L632.8 416.4 L635.6 418.8 L638.4 421.3 L641.2 423.7 L643.9 425.5 L645.0 425.6 L650.1 425.9 L655.1 425.1 L660.1 425.6 L665.1 425.9 L670.1 425.1 L675.1 423.4 L680.1 422.6 L685.1 422.6 L690.1 422.6 L695.1 422.2 L700.1 420.9 L705.1 418.4 L710.1 414.2 L715.1 410.9 L720.1 408.4 L725.1 407.2 L730.1 406.4 L735.1 406.7 L740.1 409.2 L745.1 411.7 L750.1 414.2 L755.1 415.6 L760.1 415.4 L765.1 413.4 L770.2 410.1 L775.2 405.1 L780.2 399.2 L785.2 393.4 L790.0 388.4 L793.3 383.4 L796.7 378.4 L800.0 372.6 L803.4 365.1 L806.7 358.4 L810.0 350.9 L813.4 342.6 L816.7 335.1 L820.0 327.6 L823.4 318.4 L826.7 306.7 L830.0 298.4 L833.4 291.7 L836.7 285.9 L840.1 282.2 L843.4 280.9 L846.7 280.9 L850.1 280.4 L853.4 279.7 L856.7 279.7 L860.1 278.7 L863.4 277.5 L866.7 277.2 L870.1 276.7 L873.4 275.0 L875.0 273.1 L877.8 271.3 L879.9 268.2 L882.0 264.7 L884.1 261.9 L885.5 259.8 L886.9 256.3 L888.3 253.1 L889.7 251.4 L891.8 249.6 L893.9 249.1 L896.0 249.1 L898.1 249.6 L900.2 251.4 L902.3 253.1 L904.4 252.1 L906.5 250.7 L908.6 249.6 L910.7 249.3 L912.8 249.4 L914.9 250.0 L917.0 251.0 L919.1 252.1 L921.2 252.8 L923.9 253.1 L926.7 251.4 L930.1 247.6 L933.4 241.8 L936.7 232.6 L940.1 225.9 L943.4 222.6 L946.7 220.9 L950.1 216.7 L953.4 210.1 L956.7 204.2 L960.1 199.2 L963.4 195.0 L966.8 192.5 L970.1 190.9 L973.4 190.0 L976.8 189.2 L980.1 188.7 L983.4 187.5 L986.8 184.2 L990.1 180.9 L993.4 177.5 L996.8 174.2 L1000.1 171.7 L1003.5 169.7 L1006.8 168.7 L1010.1 168.7 L1012.6 170.0 L1015.1 173.4 L1017.6 174.2 L1020.1 174.2 L1022.6 176.7 L1025.1 180.9 L1027.6 185.9 L1030.1 190.9 L1032.6 195.9 L1035.1 200.9 L1036.8 205.9 L1039.3 209.2 L1041.8 210.1 L1044.3 209.2 L1046.8 204.2 L1049.3 198.4 L1051.8 191.7 L1054.3 186.7 L1056.8 180.9 L1060.0 174.2 L1063.4 163.0 L1065.9 155.1 L1068.4 143.4 L1070.9 135.1 L1073.4 128.4 L1075.9 121.8 L1078.4 115.9 L1080.9 111.7 L1083.4 108.4 L1086.8 105.1 L1090.1 100.9 L1093.4 96.7 L1096.8 93.4 L1100.1 89.2 L1103.4 86.4 L1106.8 84.2 L1110.1 80.1 L1113.4 74.2 L1116.8 68.4 L1120.1 64.2 L1122.1 62.5" stroke="#008000" stroke-width="2.08"/>
<path d="M151.3 427.6 L153.3 424.9 L155.0 420.3 L157.3 419.1 L160.3 418.5 L162.6 417.1 L164.9 417.3 L166.7 418.3 L169.0 419.1 L171.3 420.3 L173.7 421.4 L175.4 419.1 L177.2 415.0 L179.5 412.7 L181.8 411.3 L184.2 410.3 L186.5 410.6 L188.8 409.2 L191.2 408.0 L193.5 408.6 L195.8 410.1 L198.2 409.8 L200.5 408.0 L202.3 405.1 L204.0 401.0 L205.8 396.9 L208.7 394.0 L211.0 389.9 L213.3 385.8 L215.7 382.9 L220.1 375.9 L223.4 370.1 L226.8 365.1 L230.1 360.9 L233.4 357.5 L236.8 350.0 L240.1 344.2 L244.3 339.7 L246.8 340.9 L250.1 345.9 L253.4 351.7 L256.8 361.7 L260.1 370.1 L263.5 376.7 L266.8 376.7 L269.3 371.7 L271.8 365.1 L275.1 358.4 L278.5 350.0 L281.0 343.4 L283.5 340.4 L286.0 341.7 L288.5 346.7 L291.8 350.0 L295.1 351.7 L298.5 353.4 L301.8 351.7 L305.2 348.4 L308.5 344.2 L311.8 341.7 L316.0 340.9 L320.0 340.9 L323.4 337.6 L326.7 334.2 L330.0 331.4 L333.4 327.6 L336.7 323.4 L340.0 319.2 L343.4 314.2 L346.7 310.1 L350.0 309.7 L356.7 308.4 L360.1 310.1 L363.4 312.6 L365.9 313.4 L368.4 311.7 L371.7 307.6 L375.1 300.9 L378.4 293.4 L381.7 287.5 L384.2 283.7 L386.7 282.0 L389.2 282.0 L391.7 285.0 L395.1 291.7 L398.4 298.4 L401.8 304.2 L405.1 307.6 L408.4 310.1 L411.8 312.6 L415.1 315.9 L418.4 321.7 L421.8 333.4 L425.1 343.4 L428.4 351.8 L431.8 358.4 L435.1 363.4 L438.4 364.3 L441.0 365.1 L443.5 371.8 L446.0 376.8 L448.5 376.8 L451.8 373.4 L455.1 366.8 L458.5 361.8 L461.8 357.6 L464.3 355.9 L466.8 358.4 L469.3 366.8 L471.8 376.8 L475.1 390.1 L478.4 403.4 L481.7 415.1 L483.4 420.1 L486.7 422.6 L490.1 425.1 L493.4 429.2 L496.7 431.8 L500.1 433.1 L503.4 436.8 L506.8 441.8 L509.3 445.1 L511.8 445.1 L515.1 440.9 L518.4 438.4 L521.8 435.1 L525.1 430.1 L528.4 425.1 L531.8 420.9 L535.1 420.9 L538.4 421.4 L541.8 420.9 L545.1 425.1 L548.5 431.8 L551.8 436.8 L555.1 440.1 L557.6 442.1 L560.1 440.9 L561.4 440.0 L564.2 433.2 L567.0 427.6 L570.5 421.3 L574.0 412.9 L576.8 407.3 L579.6 403.1 L582.4 400.6 L585.2 399.6 L588.0 399.0 L590.8 399.9 L593.6 400.6 L596.4 402.4 L599.2 404.8 L602.0 407.6 L605.5 410.1 L609.0 411.5 L611.8 411.1 L614.6 412.9 L617.4 414.3 L620.2 413.9 L623.0 415.3 L626.5 417.1 L630.0 419.5 L632.8 422.0 L635.6 426.2 L638.4 430.4 L640.5 432.5 L643.9 433.9 L646.7 432.6 L650.1 430.9 L653.4 426.7 L656.7 421.7 L660.1 418.4 L663.4 417.6 L666.7 418.4 L670.1 421.7 L673.4 425.1 L676.7 427.6 L680.1 428.4 L683.4 427.6 L686.7 425.9 L690.1 423.4 L693.4 419.2 L696.8 415.1 L700.1 410.9 L703.4 408.4 L706.8 406.4 L710.1 405.1 L713.4 404.2 L716.8 405.9 L720.1 407.6 L723.4 407.2 L726.8 406.7 L730.1 406.4 L733.5 406.7 L736.8 408.4 L740.1 411.7 L743.5 415.1 L746.8 417.6 L750.1 420.1 L753.5 422.2 L756.8 421.7 L760.1 416.7 L763.5 411.7 L766.8 405.1 L770.2 398.4 L773.5 392.5 L776.8 386.7 L780.2 382.5 L783.5 380.0 L786.8 378.4 L790.0 377.0 L793.3 370.1 L796.7 365.1 L800.0 358.4 L803.4 350.1 L806.7 338.4 L810.0 325.1 L813.4 315.1 L816.7 303.4 L820.0 293.4 L823.4 285.9 L826.7 280.9 L830.0 275.9 L833.4 272.5 L836.7 270.9 L840.1 271.7 L843.4 276.7 L846.7 281.7 L850.1 285.9 L853.4 288.7 L856.7 289.2 L860.1 285.9 L863.4 280.0 L866.6 273.1 L868.0 270.3 L869.4 267.5 L870.8 265.4 L872.2 262.6 L873.6 259.8 L875.0 257.0 L876.4 255.6 L877.8 254.5 L879.2 252.8 L880.6 251.4 L882.0 250.0 L883.4 248.6 L884.8 246.8 L885.8 243.0 L886.9 239.5 L888.3 237.7 L889.7 237.0 L891.1 236.7 L892.5 237.0 L893.5 238.8 L894.6 240.5 L896.0 241.9 L897.4 243.7 L898.8 246.5 L900.2 250.0 L901.6 256.3 L903.0 259.8 L904.4 262.6 L905.8 263.6 L907.2 264.3 L908.6 263.3 L910.0 262.6 L911.4 261.2 L912.4 258.7 L914.2 258.0 L915.6 257.3 L917.0 256.6 L918.4 252.8 L919.8 249.3 L921.2 245.8 L922.6 243.0 L923.9 241.6 L926.7 238.4 L930.1 235.1 L933.4 230.1 L936.7 216.7 L940.1 208.4 L943.4 206.7 L946.7 206.7 L950.1 203.4 L953.4 200.1 L956.7 195.9 L960.1 191.7 L963.4 186.7 L966.8 181.7 L969.3 180.9 L971.8 182.5 L974.3 181.7 L976.8 183.0 L980.1 185.9 L983.4 189.2 L985.9 188.4 L988.4 185.0 L991.8 180.0 L995.1 171.7 L998.4 163.4 L1001.8 154.2 L1004.3 150.3 L1006.8 151.7 L1009.3 155.0 L1011.8 160.0 L1014.3 170.0 L1016.8 181.7 L1019.3 191.7 L1021.8 200.1 L1024.3 208.4 L1026.8 217.6 L1029.3 222.6 L1031.8 224.2 L1034.3 225.9 L1036.8 225.9 L1039.3 225.1 L1041.8 220.1 L1043.5 213.4 L1045.2 205.1 L1046.8 193.4 L1048.5 181.7 L1050.2 170.0 L1051.8 160.0 L1053.5 151.7 L1055.2 145.0 L1056.8 140.0 L1057.6 136.8 L1059.2 130.9 L1060.9 125.9 L1062.6 122.6 L1065.1 120.9 L1067.6 117.6 L1070.1 113.4 L1072.6 110.1 L1075.1 107.6 L1077.6 105.1 L1080.1 101.7 L1082.6 98.1 L1085.1 95.1 L1087.6 92.6 L1090.1 89.7 L1092.6 85.9 L1095.1 82.6 L1097.6 80.4 L1100.1 78.7 L1102.6 78.0 L1105.1 76.7 L1107.6 73.4 L1110.1 69.2 L1112.6 64.2 L1115.1 59.2 L1117.6 53.4 L1120.1 47.5 L1121.8 45.0" stroke="#ff0000" stroke-width="2.08"/>
<path d="M284.8 384.2 L320.0 365.9 L325.0 362.6 L333.4 357.6 L341.7 351.8 L350.0 346.8 L358.4 342.6 L366.7 339.7 L375.1 335.4 L383.4 331.7 L391.7 329.7 L400.1 326.7 L408.4 323.1 L415.1 320.9 L420.1 321.7 L426.8 323.1 L433.4 323.9 L441.8 325.1 L450.1 326.2 L456.8 326.2 L463.5 327.6 L470.1 330.1 L476.8 334.2 L483.5 339.2 L491.8 345.9 L500.0 352.6 L508.4 359.2 L516.8 365.9 L525.1 373.4 L533.4 381.7 L541.8 389.2 L550.1 396.7 L556.8 402.6 L560.0 404.8 L563.5 406.9 L567.0 408.7 L570.5 409.7 L574.0 410.8 L577.5 411.8 L581.0 412.5 L584.5 413.5 L588.0 414.2 L591.5 414.5 L595.0 415.0 L598.5 415.7 L602.0 417.1 L605.5 418.6 L609.0 420.1 L612.5 421.3 L616.0 422.0 L619.5 422.2 L623.0 422.6 L626.5 422.7 L630.0 422.6 L633.5 422.6 L637.0 423.0 L640.5 423.7 L643.9 424.1 L645.0 423.1 L650.1 422.1 L655.1 421.1 L660.1 420.1 L665.1 419.7 L670.1 420.1 L675.1 420.7 L680.1 421.1 L685.1 421.1 L690.1 420.9 L695.1 420.1 L700.1 418.7 L705.1 417.1 L710.1 416.1 L715.1 415.6 L720.1 415.6 L725.1 415.6 L730.1 415.9 L735.1 416.7 L740.1 417.1 L745.1 417.2 L750.1 417.6 L755.1 417.6 L760.1 417.2 L765.1 416.4 L770.2 415.4 L775.2 414.1 L778.0 413.5 L782.7 412.3 L787.3 410.7 L792.0 408.6 L796.7 406.5 L801.3 403.9 L806.0 400.9 L810.7 397.3 L815.3 393.4 L820.0 388.7 L824.7 383.6 L830.0 378.4 L838.4 370.1 L846.7 363.4 L855.1 356.8 L863.4 349.2 L871.7 340.9 L880.1 333.4 L888.4 323.4 L896.8 312.6 L905.1 303.4 L913.4 294.2 L921.8 287.5 L930.1 278.4 L938.5 268.3 L946.8 260.8 L955.1 253.3 L960.1 248.4 L965.1 244.3 L970.1 240.9 L975.1 238.4 L980.1 236.4 L985.1 234.2 L990.1 230.1 L995.1 225.9 L1000.1 220.1 L1005.1 215.1 L1010.1 211.7 L1015.1 210.1 L1020.1 208.7 L1025.1 208.4 L1030.1 208.4 L1035.1 208.1 L1040.2 207.6 L1043.5 206.7 L1046.8 203.4 L1050.2 200.1 L1053.5 195.9 L1056.8 191.7 L1060.0 189.2 L1091.8 163.0 L1096.8 158.4 L1101.8 154.3 L1106.8 150.9 L1111.8 146.8 L1116.8 141.8 L1122.1 137.6" stroke="#800080" stroke-width="2.08"/>
</g>
<g fill="none" clip-path="url(#c1)">
<path d="M86.5 30.5H1171.5" stroke="#008000" stroke-opacity="0.7" stroke-width="1.39" stroke-dasharray="8.89 2.222 1.389 2.222"/>
<path d="M86.5 312.5H1171.5" stroke="#ff0000" stroke-opacity="0.7" stroke-width="1.39" stroke-dasharray="8.89 2.222 1.389 2.222"/>
<path d="M1122.5 485.3V9.5" stroke="#008000" stroke-opacity="0.7" stroke-width="1.39" stroke-dasharray="5.139 2.222"/>
</g>
<g stroke="#000" stroke-width="1.1" fill="none">
<rect x="86.5" y="9.5" width="1085.0" height="475.8"/>
<rect x="86.5" y="500.5" width="1085.0" height="159.0"/>
<path d="M86.5 478.5h-4.9"/>
<path d="M86.5 413.5h-4.9"/>
<path d="M86.5 348.5h-4.9"/>
<path d="M86.5 283.5h-4.9"/>
<path d="M86.5 218.5h-4.9"/>
<path d="M86.5 153.5h-4.9"/>
<path d="M86.5 88.5h-4.9"/>
<path d="M86.5 23.5h-4.9"/>
<path d="M86.5 659.5h-4.9"/>
<path d="M86.5 626.5h-4.9"/>
<path d="M86.5 593.5h-4.9"/>
<path d="M86.5 560.5h-4.9"/>
<path d="M86.5 527.5h-4.9"/>
<path d="M218.5 485.3v4.9"/>
<path d="M218.5 659.5v4.9"/>
<path d="M407.5 485.3v4.9"/>
<path d="M407.5 659.5v4.9"/>
<path d="M597.5 485.3v4.9"/>
<path d="M597.5 659.5v4.9"/>
<path d="M787.5 485.3v4.9"/>
<path d="M787.5 659.5v4.9"/>
<path d="M977.5 485.3v4.9"/>
<path d="M977.5 659.5v4.9"/>
<path d="M1167.5 485.3v4.9"/>
<path d="M1167.5 659.5v4.9"/>
</g>
<text x="75.9" y="483.9" font-size="12.93" textLength="24.0" lengthAdjust="spacingAndGlyphs" text-anchor="end">120</text>
<text x="75.9" y="418.9" font-size="12.93" textLength="24.0" lengthAdjust="spacingAndGlyphs" text-anchor="end">140</text>
<text x="75.9" y="353.9" font-size="12.93" textLength="24.0" lengthAdjust="spacingAndGlyphs" text-anchor="end">160</text>
<text x="75.9" y="288.9" font-size="12.93" textLength="24.0" lengthAdjust="spacingAndGlyphs" text-anchor="end">180</text>
<text x="75.9" y="223.9" font-size="12.93" textLength="24.0" lengthAdjust="spacingAndGlyphs" text-anchor="end">200</text>
<text x="75.9" y="158.9" font-size="12.93" textLength="24.0" lengthAdjust="spacingAndGlyphs" text-anchor="end">220</text>
<text x="75.9" y="93.9" font-size="12.93" textLength="24.0" lengthAdjust="spacingAndGlyphs" text-anchor="end">240</text>
<text x="75.9" y="28.9" font-size="12.93" textLength="24.0" lengthAdjust="spacingAndGlyphs" text-anchor="end">260</text>
<text x="75.4" y="665.2" font-size="12.93" textLength="8.1" lengthAdjust="spacingAndGlyphs" text-anchor="end">0</text>
<text x="75.4" y="632.2" font-size="12.93" textLength="40.4" lengthAdjust="spacingAndGlyphs" text-anchor="end">50000</text>
<text x="75.4" y="599.2" font-size="12.93" textLength="48.5" lengthAdjust="spacingAndGlyphs" text-anchor="end">100000</text>
<text x="75.4" y="566.2" font-size="12.93" textLength="48.5" lengthAdjust="spacingAndGlyphs" text-anchor="end">150000</text>
<text x="75.4" y="533.2" font-size="12.93" textLength="48.5" lengthAdjust="spacingAndGlyphs" text-anchor="end">200000</text>
<text x="218.7" y="678.9" font-size="12.93" textLength="52.8" lengthAdjust="spacingAndGlyphs" text-anchor="middle">2021-01</text>
<text x="407.7" y="678.9" font-size="12.93" textLength="52.8" lengthAdjust="spacingAndGlyphs" text-anchor="middle">2022-01</text>
<text x="597.7" y="678.9" font-size="12.93" textLength="52.8" lengthAdjust="spacingAndGlyphs" text-anchor="middle">2023-01</text>
<text x="787.7" y="678.9" font-size="12.93" textLength="52.8" lengthAdjust="spacingAndGlyphs" text-anchor="middle">2024-01</text>
<text x="977.7" y="678.9" font-size="12.93" textLength="52.8" lengthAdjust="spacingAndGlyphs" text-anchor="middle">2025-01</text>
<text x="1167.7" y="678.9" font-size="12.93" textLength="52.8" lengthAdjust="spacingAndGlyphs" text-anchor="middle">2026-01</text>
<text font-size="12.5" text-anchor="middle" transform="translate(17.5 582.3) rotate(-90)" textLength="43" lengthAdjust="spacingAndGlyphs">Volume</text>
<rect x="93.9" y="16.6" width="107.4" height="119.7" rx="2.8" fill="#fff" fill-opacity="0.8" stroke="#ccc" stroke-opacity="0.8" stroke-width="1.1"/>
<g fill="none" stroke-width="2.08">
<path d="M98.1 25.9H127.1" stroke="#000"/>
<path d="M98.1 45.8H127.1" stroke="#008000"/>
<path d="M98.1 67.0H127.1" stroke="#ff0000"/>
<path d="M98.1 85.8H127.1" stroke="#800080"/>
</g>
<path d="M112.4 96.0L122.8 116.8L102.0 116.8Z" fill="#008000"/>
<path d="M112.4 134.9L122.8 114.1L102.0 114.1Z" fill="#ff0000"/>
<text x="137.9" y="31.9" font-size="12.50" textLength="33.1" lengthAdjust="spacingAndGlyphs">Close</text>
<text><tspan x="138.2" y="51.9" font-size="12.50" textLength="38.0" lengthAdjust="spacingAndGlyphs">MA50[</tspan><tspan x="176.0" y="52.2" font-size="13.50" textLength="14.9" lengthAdjust="spacingAndGlyphs">买</tspan><tspan x="191.6" y="51.9" font-size="12.50" textLength="3.5" lengthAdjust="spacingAndGlyphs">]</tspan></text>
<text><tspan x="138.2" y="73.0" font-size="12.50" textLength="38.0" lengthAdjust="spacingAndGlyphs">MA25[</tspan><tspan x="176.0" y="73.3" font-size="13.50" textLength="14.9" lengthAdjust="spacingAndGlyphs">卖</tspan><tspan x="191.6" y="73.0" font-size="12.50" textLength="3.5" lengthAdjust="spacingAndGlyphs">]</tspan></text>
<text x="138.2" y="91.7" font-size="12.50" textLength="42.9" lengthAdjust="spacingAndGlyphs">MA200</text>
<text x="138.1" y="109.9" font-size="12.50" textLength="21.2" lengthAdjust="spacingAndGlyphs">Buy</text>
<text x="137.9" y="128.6" font-size="12.50" textLength="21.3" lengthAdjust="spacingAndGlyphs">Sell</text>
<rect x="962.5" y="375.9" width="191.6" height="89.6" rx="4" fill="#fff" fill-opacity="0.8" stroke="#008000" stroke-opacity="0.8" stroke-width="1.39"/>
<text x="1149.6" y="392.3" font-size="14.73" textLength="161.8" lengthAdjust="spacingAndGlyphs" text-anchor="end" style="fill:#008000">254.22 (+0.03 +0.01%)</text>
<text x="1149.2" y="408.8" font-size="14.73" textLength="109.2" lengthAdjust="spacingAndGlyphs" text-anchor="end" style="fill:#008000">171.21~257.95</text>
<text x="1149.5" y="424.7" font-size="14.73" textLength="165.6" lengthAdjust="spacingAndGlyphs" text-anchor="end" style="fill:#008000">252.32/247.64/224.73</text>
<text x="1149.5" y="440.6" font-size="14.73" textLength="128.5" lengthAdjust="spacingAndGlyphs" text-anchor="end" style="fill:#008000">2025-10-06 04:00</text>
<text style="fill:#008000"><tspan x="967.8" y="458.7" font-size="14.73" textLength="57.9" lengthAdjust="spacingAndGlyphs">+14.56/</tspan><tspan x="1026.3" y="458.7" font-size="13.90" textLength="28.2" lengthAdjust="spacingAndGlyphs">偏多</tspan><tspan x="1056.2" y="458.7" font-size="14.73" textLength="93.3" lengthAdjust="spacingAndGlyphs">/+8.28/-0.00</tspan></text>
<text><tspan x="86.1" y="717.0" font-size="16.67" textLength="45.4" lengthAdjust="spacingAndGlyphs">MTUM</tspan> <tspan x="137.4" y="717.7" font-size="16.67" textLength="66.0" lengthAdjust="spacingAndGlyphs">交易次数</tspan><tspan x="205.4" y="717.0" font-size="16.67" textLength="4.6" lengthAdjust="spacingAndGlyphs">:</tspan> <tspan x="214.1" y="717.0" font-size="16.67" textLength="9.7" lengthAdjust="spacingAndGlyphs">3</tspan></text>
<text><tspan x="86.2" y="737.8" font-size="16.67" textLength="98.0" lengthAdjust="spacingAndGlyphs">策略总收益率</tspan><tspan x="185.9" y="736.2" font-size="16.67" textLength="4.6" lengthAdjust="spacingAndGlyphs">:</tspan> <tspan x="195.4" y="736.2" font-size="16.67" textLength="57.1" lengthAdjust="spacingAndGlyphs">85.65%</tspan></text>
<text><tspan x="86.2" y="756.7" font-size="16.67" textLength="98.0" lengthAdjust="spacingAndGlyphs">长期持有收益</tspan><tspan x="185.9" y="755.7" font-size="16.67" textLength="4.6" lengthAdjust="spacingAndGlyphs">:</tspan> <tspan x="195.4" y="755.7" font-size="16.67" textLength="57.1" lengthAdjust="spacingAndGlyphs">82.67%</tspan></text>
<text><tspan x="86.2" y="777.0" font-size="16.67" textLength="65.6" lengthAdjust="spacingAndGlyphs">交易记录</tspan><tspan x="152.6" y="776.0" font-size="16.67" textLength="4.6" lengthAdjust="spacingAndGlyphs">:</tspan></text>
<text><tspan x="96.1" y="792.8" font-size="16.67" textLength="64.6" lengthAdjust="spacingAndGlyphs">Buy Date</tspan> <tspan x="171.7" y="792.8" font-size="16.67" textLength="66.3" lengthAdjust="spacingAndGlyphs">Buy Price</tspan> <tspan x="249.0" y="792.8" font-size="16.67" textLength="65.3" lengthAdjust="spacingAndGlyphs">Sell Date</tspan> <tspan x="325.0" y="792.8" font-size="16.67" textLength="67.8" lengthAdjust="spacingAndGlyphs">Sell Price</tspan> <tspan x="403.0" y="792.8" font-size="16.67" textLength="94.5" lengthAdjust="spacingAndGlyphs">Holding Days</tspan> <tspan x="507.7" y="792.8" font-size="16.67" textLength="54.1" lengthAdjust="spacingAndGlyphs">Profit %</tspan></text>
<text><tspan x="86.1" y="810.0" font-size="16.67" textLength="89.6" lengthAdjust="spacingAndGlyphs">2020-10-26</tspan> <tspan x="200.8" y="810.0" font-size="16.67" textLength="53.4" lengthAdjust="spacingAndGlyphs">139.17</tspan> <tspan x="260.7" y="810.0" font-size="16.67" textLength="89.5" lengthAdjust="spacingAndGlyphs">2021-09-14</tspan> <tspan x="380.0" y="810.0" font-size="16.67" textLength="55.2" lengthAdjust="spacingAndGlyphs">170.82</tspan> <tspan x="490.3" y="810.0" font-size="16.67" textLength="29.2" lengthAdjust="spacingAndGlyphs">323</tspan> <tspan x="545.1" y="810.0" font-size="16.67" textLength="44.7" lengthAdjust="spacingAndGlyphs">22.74</tspan></text>
<text><tspan x="86.1" y="827.6" font-size="16.67" textLength="89.6" lengthAdjust="spacingAndGlyphs">2021-09-20</tspan> <tspan x="200.8" y="827.6" font-size="16.67" textLength="53.4" lengthAdjust="spacingAndGlyphs">167.29</tspan> <tspan x="260.7" y="827.6" font-size="16.67" textLength="89.5" lengthAdjust="spacingAndGlyphs">2024-10-30</tspan> <tspan x="380.0" y="827.6" font-size="16.67" textLength="55.2" lengthAdjust="spacingAndGlyphs">203.00</tspan> <tspan x="484.8" y="827.6" font-size="16.67" textLength="39.6" lengthAdjust="spacingAndGlyphs">1136</tspan> <tspan x="550.1" y="827.6" font-size="16.67" textLength="44.7" lengthAdjust="spacingAndGlyphs">21.35</tspan></text>
<text><tspan x="86.1" y="845.0" font-size="16.67" textLength="89.6" lengthAdjust="spacingAndGlyphs">2024-12-18</tspan> <tspan x="200.8" y="845.0" font-size="16.67" textLength="53.4" lengthAdjust="spacingAndGlyphs">203.97</tspan> <tspan x="260.7" y="845.0" font-size="16.67" textLength="89.5" lengthAdjust="spacingAndGlyphs">2025-10-06</tspan> <tspan x="380.0" y="845.0" font-size="16.67" textLength="55.2" lengthAdjust="spacingAndGlyphs">254.22</tspan> <tspan x="490.3" y="845.0" font-size="16.67" textLength="29.2" lengthAdjust="spacingAndGlyphs">291</tspan> <tspan x="545.1" y="845.0" font-size="16.67" textLength="44.7" lengthAdjust="spacingAndGlyphs">24.64</tspan></text>
</svg></body></html>
